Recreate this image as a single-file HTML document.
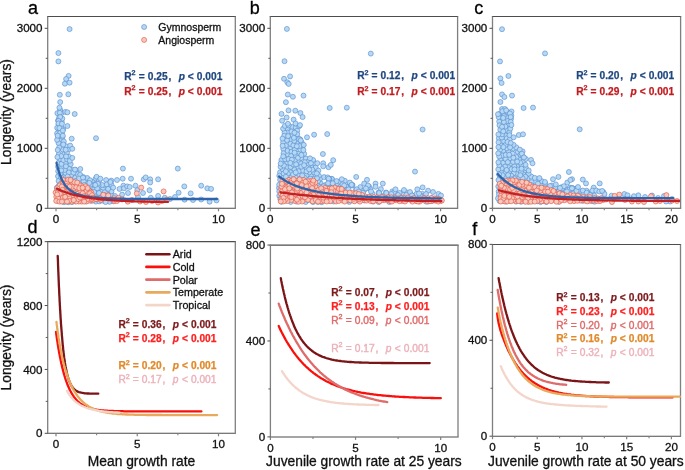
<!DOCTYPE html><html><head><meta charset="utf-8"><style>html,body{margin:0;padding:0;background:#fff}svg{display:block;will-change:transform}text{font-family:"Liberation Sans",sans-serif}.bl circle{fill:#b5d8f4;stroke:#568ccf;stroke-width:.62px;r:2.5px}.rd circle{fill:#f7c9bb;stroke:#e4584b;stroke-width:.65px;r:2.5px}</style></head><body>
<svg width="685" height="470" viewBox="0 0 685 470" font-family="Liberation Sans, sans-serif">
<rect width="685" height="470" fill="#fff"/>
<g class="bl"><circle cx="90.9" cy="192.4" r="2.5"/><circle cx="58.2" cy="171.2" r="2.5"/><circle cx="65.0" cy="184.1" r="2.5"/><circle cx="109.5" cy="186.8" r="2.5"/><circle cx="60.6" cy="139.9" r="2.5"/><circle cx="64.0" cy="196.2" r="2.5"/><circle cx="64.5" cy="176.4" r="2.5"/><circle cx="85.8" cy="189.0" r="2.5"/><circle cx="103.2" cy="188.3" r="2.5"/><circle cx="87.9" cy="182.8" r="2.5"/><circle cx="88.2" cy="199.5" r="2.5"/><circle cx="90.3" cy="196.2" r="2.5"/><circle cx="70.0" cy="199.7" r="2.5"/><circle cx="72.4" cy="169.7" r="2.5"/><circle cx="61.3" cy="113.3" r="2.5"/><circle cx="68.1" cy="189.0" r="2.5"/><circle cx="69.0" cy="168.8" r="2.5"/><circle cx="58.5" cy="162.8" r="2.5"/><circle cx="75.9" cy="193.0" r="2.5"/><circle cx="57.6" cy="196.0" r="2.5"/><circle cx="65.7" cy="173.2" r="2.5"/><circle cx="96.0" cy="194.5" r="2.5"/><circle cx="90.1" cy="187.6" r="2.5"/><circle cx="58.0" cy="120.5" r="2.5"/><circle cx="63.9" cy="154.2" r="2.5"/><circle cx="67.8" cy="179.9" r="2.5"/><circle cx="60.1" cy="188.5" r="2.5"/><circle cx="107.7" cy="191.4" r="2.5"/><circle cx="58.1" cy="166.7" r="2.5"/><circle cx="61.9" cy="167.5" r="2.5"/><circle cx="84.7" cy="195.3" r="2.5"/><circle cx="69.0" cy="193.6" r="2.5"/><circle cx="74.6" cy="177.8" r="2.5"/><circle cx="71.3" cy="175.0" r="2.5"/><circle cx="76.0" cy="180.8" r="2.5"/><circle cx="99.2" cy="198.4" r="2.5"/><circle cx="58.9" cy="154.0" r="2.5"/><circle cx="79.6" cy="183.8" r="2.5"/><circle cx="104.8" cy="198.4" r="2.5"/><circle cx="58.6" cy="180.9" r="2.5"/><circle cx="64.8" cy="169.9" r="2.5"/><circle cx="60.1" cy="159.0" r="2.5"/><circle cx="65.7" cy="162.7" r="2.5"/><circle cx="58.8" cy="185.6" r="2.5"/><circle cx="63.2" cy="188.1" r="2.5"/><circle cx="76.7" cy="172.8" r="2.5"/><circle cx="61.5" cy="163.9" r="2.5"/><circle cx="70.8" cy="179.6" r="2.5"/><circle cx="78.9" cy="200.9" r="2.5"/><circle cx="98.5" cy="190.2" r="2.5"/><circle cx="71.3" cy="182.6" r="2.5"/><circle cx="87.9" cy="193.6" r="2.5"/><circle cx="92.9" cy="181.8" r="2.5"/><circle cx="60.2" cy="110.0" r="2.5"/><circle cx="61.8" cy="133.5" r="2.5"/><circle cx="80.2" cy="174.8" r="2.5"/><circle cx="66.4" cy="146.3" r="2.5"/><circle cx="59.1" cy="130.8" r="2.5"/><circle cx="91.4" cy="200.9" r="2.5"/><circle cx="94.4" cy="188.4" r="2.5"/><circle cx="111.8" cy="197.4" r="2.5"/><circle cx="67.0" cy="152.6" r="2.5"/><circle cx="58.5" cy="124.6" r="2.5"/><circle cx="79.4" cy="189.9" r="2.5"/><circle cx="101.4" cy="195.8" r="2.5"/><circle cx="107.2" cy="194.4" r="2.5"/><circle cx="79.7" cy="197.1" r="2.5"/><circle cx="62.5" cy="136.9" r="2.5"/><circle cx="58.0" cy="176.2" r="2.5"/><circle cx="75.0" cy="196.6" r="2.5"/><circle cx="85.8" cy="201.4" r="2.5"/><circle cx="82.9" cy="191.6" r="2.5"/><circle cx="83.7" cy="181.4" r="2.5"/><circle cx="108.2" cy="197.3" r="2.5"/><circle cx="63.2" cy="129.2" r="2.5"/><circle cx="59.9" cy="194.0" r="2.5"/><circle cx="70.7" cy="164.2" r="2.5"/><circle cx="64.6" cy="190.8" r="2.5"/><circle cx="74.9" cy="189.5" r="2.5"/><circle cx="62.7" cy="149.4" r="2.5"/><circle cx="59.2" cy="117.3" r="2.5"/><circle cx="111.2" cy="194.4" r="2.5"/><circle cx="101.6" cy="192.1" r="2.5"/><circle cx="57.0" cy="191.3" r="2.5"/><circle cx="61.1" cy="183.5" r="2.5"/><circle cx="68.2" cy="202.2" r="2.5"/><circle cx="105.3" cy="185.5" r="2.5"/><circle cx="76.5" cy="184.8" r="2.5"/><circle cx="70.6" cy="196.2" r="2.5"/><circle cx="61.0" cy="126.9" r="2.5"/><circle cx="58.3" cy="136.3" r="2.5"/><circle cx="87.2" cy="178.0" r="2.5"/><circle cx="63.4" cy="160.0" r="2.5"/><circle cx="59.2" cy="147.4" r="2.5"/><circle cx="61.1" cy="199.3" r="2.5"/><circle cx="102.2" cy="185.0" r="2.5"/><circle cx="94.8" cy="197.6" r="2.5"/><circle cx="69.3" cy="149.0" r="2.5"/><circle cx="61.8" cy="122.0" r="2.5"/><circle cx="80.7" cy="194.0" r="2.5"/><circle cx="63.9" cy="202.2" r="2.5"/><circle cx="84.4" cy="185.0" r="2.5"/><circle cx="57.7" cy="150.0" r="2.5"/><circle cx="109.6" cy="201.8" r="2.5"/><circle cx="72.8" cy="187.2" r="2.5"/><circle cx="81.4" cy="186.5" r="2.5"/><circle cx="72.3" cy="193.6" r="2.5"/><circle cx="58.5" cy="142.9" r="2.5"/><circle cx="67.5" cy="196.3" r="2.5"/><circle cx="102.4" cy="200.6" r="2.5"/><circle cx="113.4" cy="201.3" r="2.5"/><circle cx="61.1" cy="177.2" r="2.5"/><circle cx="82.0" cy="200.9" r="2.5"/><circle cx="63.8" cy="141.4" r="2.5"/><circle cx="69.6" cy="185.8" r="2.5"/><circle cx="98.6" cy="185.3" r="2.5"/><circle cx="58.3" cy="201.0" r="2.5"/><circle cx="73.1" cy="199.2" r="2.5"/><circle cx="67.1" cy="159.4" r="2.5"/><circle cx="83.3" cy="177.1" r="2.5"/><circle cx="61.2" cy="156.1" r="2.5"/><circle cx="95.8" cy="201.6" r="2.5"/><circle cx="111.5" cy="191.3" r="2.5"/><circle cx="56.8" cy="187.8" r="2.5"/><circle cx="79.1" cy="178.6" r="2.5"/><circle cx="63.3" cy="144.5" r="2.5"/><circle cx="62.6" cy="180.1" r="2.5"/><circle cx="97.0" cy="182.7" r="2.5"/><circle cx="94.3" cy="191.9" r="2.5"/><circle cx="60.4" cy="173.8" r="2.5"/><circle cx="105.6" cy="202.1" r="2.5"/><circle cx="65.9" cy="166.3" r="2.5"/><circle cx="68.9" cy="172.4" r="2.5"/><circle cx="69.2" cy="156.9" r="2.5"/><circle cx="75.3" cy="201.4" r="2.5"/><circle cx="57.2" cy="127.9" r="2.5"/><circle cx="94.0" cy="184.9" r="2.5"/><circle cx="57.4" cy="113.2" r="2.5"/><circle cx="67.6" cy="176.5" r="2.5"/><circle cx="90.0" cy="180.2" r="2.5"/><circle cx="85.0" cy="198.4" r="2.5"/><circle cx="98.9" cy="193.6" r="2.5"/><circle cx="57.4" cy="157.1" r="2.5"/><circle cx="104.7" cy="192.3" r="2.5"/><circle cx="57.1" cy="133.4" r="2.5"/><circle cx="90.5" cy="184.6" r="2.5"/><circle cx="69.8" cy="160.8" r="2.5"/><circle cx="61.2" cy="170.4" r="2.5"/><circle cx="72.0" cy="202.1" r="2.5"/><circle cx="66.1" cy="200.0" r="2.5"/><circle cx="62.3" cy="118.6" r="2.5"/><circle cx="68.1" cy="183.0" r="2.5"/><circle cx="57.1" cy="139.8" r="2.5"/><circle cx="75.5" cy="169.9" r="2.5"/><circle cx="65.7" cy="149.8" r="2.5"/><circle cx="66.1" cy="156.4" r="2.5"/><circle cx="99.2" cy="201.4" r="2.5"/><circle cx="71.3" cy="190.1" r="2.5"/><circle cx="73.5" cy="172.6" r="2.5"/><circle cx="87.6" cy="186.0" r="2.5"/><circle cx="88.6" cy="190.2" r="2.5"/><circle cx="69.6" cy="29.1" r="2.5"/><circle cx="58.4" cy="53.1" r="2.5"/><circle cx="58.4" cy="61.4" r="2.5"/><circle cx="68.6" cy="75.9" r="2.5"/><circle cx="66.1" cy="79.0" r="2.5"/><circle cx="64.9" cy="83.7" r="2.5"/><circle cx="69.6" cy="82.7" r="2.5"/><circle cx="59.8" cy="94.8" r="2.5"/><circle cx="68.3" cy="94.3" r="2.5"/><circle cx="60.2" cy="102.1" r="2.5"/><circle cx="59.4" cy="107.7" r="2.5"/><circle cx="59.8" cy="112.8" r="2.5"/><circle cx="65.3" cy="111.9" r="2.5"/><circle cx="67.4" cy="112.3" r="2.5"/><circle cx="74.7" cy="114.0" r="2.5"/><circle cx="67.4" cy="126.0" r="2.5"/><circle cx="71.7" cy="138.7" r="2.5"/><circle cx="96.0" cy="138.2" r="2.5"/><circle cx="70.2" cy="145.6" r="2.5"/><circle cx="72.3" cy="148.8" r="2.5"/><circle cx="72.3" cy="157.9" r="2.5"/><circle cx="80.3" cy="169.0" r="2.5"/><circle cx="75.0" cy="169.6" r="2.5"/><circle cx="83.0" cy="177.6" r="2.5"/><circle cx="95.7" cy="178.6" r="2.5"/><circle cx="89.4" cy="182.9" r="2.5"/><circle cx="122.9" cy="168.6" r="2.5"/><circle cx="177.8" cy="168.6" r="2.5"/><circle cx="96.6" cy="176.8" r="2.5"/><circle cx="99.1" cy="180.6" r="2.5"/><circle cx="100.4" cy="178.7" r="2.5"/><circle cx="97.9" cy="183.8" r="2.5"/><circle cx="97.2" cy="188.3" r="2.5"/><circle cx="106.1" cy="180.0" r="2.5"/><circle cx="106.8" cy="184.4" r="2.5"/><circle cx="108.1" cy="188.9" r="2.5"/><circle cx="111.3" cy="180.6" r="2.5"/><circle cx="111.3" cy="184.4" r="2.5"/><circle cx="113.2" cy="187.6" r="2.5"/><circle cx="117.0" cy="180.0" r="2.5"/><circle cx="122.7" cy="178.7" r="2.5"/><circle cx="119.5" cy="188.9" r="2.5"/><circle cx="123.4" cy="185.7" r="2.5"/><circle cx="124.0" cy="188.3" r="2.5"/><circle cx="127.2" cy="186.4" r="2.5"/><circle cx="129.7" cy="187.0" r="2.5"/><circle cx="131.0" cy="178.7" r="2.5"/><circle cx="122.1" cy="194.6" r="2.5"/><circle cx="135.5" cy="185.7" r="2.5"/><circle cx="143.8" cy="179.3" r="2.5"/><circle cx="145.7" cy="177.4" r="2.5"/><circle cx="150.2" cy="179.3" r="2.5"/><circle cx="150.2" cy="182.5" r="2.5"/><circle cx="149.5" cy="190.2" r="2.5"/><circle cx="150.8" cy="197.8" r="2.5"/><circle cx="158.1" cy="179.3" r="2.5"/><circle cx="158.1" cy="195.9" r="2.5"/><circle cx="95.3" cy="185.0" r="2.5"/><circle cx="110.4" cy="182.0" r="2.5"/><circle cx="137.3" cy="190.2" r="2.5"/><circle cx="164.8" cy="197.8" r="2.5"/><circle cx="184.3" cy="186.4" r="2.5"/><circle cx="178.6" cy="192.7" r="2.5"/><circle cx="190.7" cy="193.4" r="2.5"/><circle cx="201.2" cy="185.7" r="2.5"/><circle cx="207.3" cy="188.3" r="2.5"/><circle cx="211.1" cy="188.9" r="2.5"/><circle cx="184.6" cy="199.7" r="2.5"/><circle cx="201.2" cy="199.5" r="2.5"/><circle cx="209.6" cy="201.7" r="2.5"/><circle cx="216.5" cy="200.4" r="2.5"/><circle cx="60.2" cy="117.0" r="2.5"/><circle cx="58.5" cy="120.9" r="2.5"/><circle cx="58.5" cy="123.4" r="2.5"/><circle cx="61.9" cy="123.8" r="2.5"/><circle cx="59.4" cy="128.1" r="2.5"/><circle cx="60.2" cy="132.8" r="2.5"/><circle cx="62.8" cy="130.6" r="2.5"/><circle cx="57.7" cy="135.7" r="2.5"/><circle cx="62.8" cy="135.7" r="2.5"/><circle cx="99.0" cy="193.0" r="2.5"/><circle cx="104.0" cy="195.0" r="2.5"/><circle cx="115.0" cy="196.0" r="2.5"/><circle cx="128.0" cy="193.0" r="2.5"/><circle cx="138.0" cy="197.0" r="2.5"/><circle cx="143.0" cy="193.0" r="2.5"/><circle cx="170.0" cy="199.0" r="2.5"/><circle cx="193.0" cy="200.0" r="2.5"/><circle cx="175.0" cy="197.0" r="2.5"/></g>
<g class="rd"><circle cx="65.2" cy="180.9" r="2.5"/><circle cx="62.9" cy="195.0" r="2.5"/><circle cx="62.5" cy="192.4" r="2.5"/><circle cx="69.1" cy="184.1" r="2.5"/><circle cx="64.5" cy="188.5" r="2.5"/><circle cx="81.5" cy="195.5" r="2.5"/><circle cx="60.0" cy="188.8" r="2.5"/><circle cx="55.6" cy="192.5" r="2.5"/><circle cx="71.7" cy="182.2" r="2.5"/><circle cx="73.1" cy="184.2" r="2.5"/><circle cx="91.5" cy="195.0" r="2.5"/><circle cx="81.5" cy="201.6" r="2.5"/><circle cx="89.7" cy="200.6" r="2.5"/><circle cx="58.0" cy="191.6" r="2.5"/><circle cx="89.3" cy="190.9" r="2.5"/><circle cx="71.3" cy="189.4" r="2.5"/><circle cx="81.2" cy="185.8" r="2.5"/><circle cx="85.7" cy="194.2" r="2.5"/><circle cx="63.3" cy="184.6" r="2.5"/><circle cx="60.7" cy="198.9" r="2.5"/><circle cx="85.1" cy="198.8" r="2.5"/><circle cx="56.3" cy="196.8" r="2.5"/><circle cx="78.8" cy="184.6" r="2.5"/><circle cx="71.8" cy="198.1" r="2.5"/><circle cx="68.1" cy="188.4" r="2.5"/><circle cx="83.8" cy="190.8" r="2.5"/><circle cx="78.8" cy="201.5" r="2.5"/><circle cx="76.3" cy="201.5" r="2.5"/><circle cx="66.5" cy="194.8" r="2.5"/><circle cx="92.3" cy="197.4" r="2.5"/><circle cx="74.0" cy="188.9" r="2.5"/><circle cx="59.5" cy="196.2" r="2.5"/><circle cx="85.1" cy="188.6" r="2.5"/><circle cx="92.9" cy="200.3" r="2.5"/><circle cx="62.8" cy="197.7" r="2.5"/><circle cx="82.5" cy="198.3" r="2.5"/><circle cx="75.7" cy="184.8" r="2.5"/><circle cx="59.7" cy="185.4" r="2.5"/><circle cx="74.4" cy="197.7" r="2.5"/><circle cx="63.1" cy="182.1" r="2.5"/><circle cx="64.1" cy="200.8" r="2.5"/><circle cx="66.9" cy="198.7" r="2.5"/><circle cx="72.3" cy="186.7" r="2.5"/><circle cx="67.7" cy="191.2" r="2.5"/><circle cx="76.7" cy="196.6" r="2.5"/><circle cx="77.4" cy="191.0" r="2.5"/><circle cx="57.2" cy="188.3" r="2.5"/><circle cx="81.2" cy="189.9" r="2.5"/><circle cx="72.4" cy="195.0" r="2.5"/><circle cx="89.4" cy="196.7" r="2.5"/><circle cx="69.0" cy="197.2" r="2.5"/><circle cx="74.7" cy="192.8" r="2.5"/><circle cx="58.2" cy="198.4" r="2.5"/><circle cx="74.3" cy="182.1" r="2.5"/><circle cx="86.7" cy="201.4" r="2.5"/><circle cx="65.2" cy="192.3" r="2.5"/><circle cx="78.2" cy="199.1" r="2.5"/><circle cx="71.6" cy="201.6" r="2.5"/><circle cx="71.3" cy="192.5" r="2.5"/><circle cx="67.2" cy="182.4" r="2.5"/><circle cx="79.8" cy="191.9" r="2.5"/><circle cx="86.5" cy="191.3" r="2.5"/><circle cx="66.9" cy="186.1" r="2.5"/><circle cx="85.4" cy="186.3" r="2.5"/><circle cx="78.9" cy="195.3" r="2.5"/><circle cx="69.2" cy="200.8" r="2.5"/><circle cx="76.3" cy="187.2" r="2.5"/><circle cx="68.1" cy="179.7" r="2.5"/><circle cx="79.3" cy="188.2" r="2.5"/><circle cx="56.2" cy="200.9" r="2.5"/><circle cx="67.0" cy="201.6" r="2.5"/><circle cx="91.4" cy="192.5" r="2.5"/><circle cx="87.7" cy="199.0" r="2.5"/><circle cx="59.9" cy="193.7" r="2.5"/><circle cx="68.7" cy="193.9" r="2.5"/><circle cx="84.2" cy="201.6" r="2.5"/><circle cx="59.4" cy="201.6" r="2.5"/><circle cx="87.6" cy="188.1" r="2.5"/><circle cx="77.2" cy="182.5" r="2.5"/><circle cx="57.2" cy="194.4" r="2.5"/><circle cx="82.7" cy="193.3" r="2.5"/><circle cx="61.8" cy="186.6" r="2.5"/><circle cx="82.6" cy="187.8" r="2.5"/><circle cx="69.6" cy="186.5" r="2.5"/><circle cx="88.2" cy="193.8" r="2.5"/><circle cx="86.4" cy="196.5" r="2.5"/><circle cx="73.7" cy="200.1" r="2.5"/><circle cx="84.0" cy="196.3" r="2.5"/><circle cx="77.0" cy="193.8" r="2.5"/><circle cx="62.4" cy="189.9" r="2.5"/><circle cx="65.1" cy="196.9" r="2.5"/><circle cx="62.9" cy="179.7" r="2.5"/><circle cx="70.5" cy="180.0" r="2.5"/><circle cx="80.0" cy="197.5" r="2.5"/><circle cx="61.9" cy="201.6" r="2.5"/><circle cx="96.5" cy="199.0" r="2.5"/><circle cx="91.9" cy="199.1" r="2.5"/><circle cx="105.2" cy="195.7" r="2.5"/><circle cx="90.1" cy="193.3" r="2.5"/><circle cx="114.3" cy="201.0" r="2.5"/><circle cx="97.1" cy="198.8" r="2.5"/><circle cx="92.0" cy="195.2" r="2.5"/><circle cx="100.8" cy="200.1" r="2.5"/><circle cx="100.1" cy="198.5" r="2.5"/><circle cx="102.8" cy="197.8" r="2.5"/><circle cx="92.9" cy="197.9" r="2.5"/><circle cx="102.3" cy="197.3" r="2.5"/><circle cx="96.1" cy="199.1" r="2.5"/><circle cx="114.2" cy="198.2" r="2.5"/><circle cx="103.3" cy="194.8" r="2.5"/><circle cx="108.2" cy="195.5" r="2.5"/><circle cx="141.2" cy="187.6" r="2.5"/><circle cx="136.8" cy="193.4" r="2.5"/><circle cx="127.8" cy="201.7" r="2.5"/><circle cx="118.6" cy="197.8" r="2.5"/><circle cx="163.6" cy="191.4" r="2.5"/><circle cx="167.1" cy="199.7" r="2.5"/><circle cx="117.0" cy="201.0" r="2.5"/><circle cx="122.0" cy="199.5" r="2.5"/><circle cx="132.0" cy="200.0" r="2.5"/><circle cx="140.0" cy="201.5" r="2.5"/><circle cx="146.0" cy="202.0" r="2.5"/><circle cx="152.0" cy="201.0" r="2.5"/><circle cx="158.0" cy="202.5" r="2.5"/><circle cx="162.0" cy="201.0" r="2.5"/></g>
<g class="bl"><circle cx="314.6" cy="175.7" r="2.5"/><circle cx="311.3" cy="199.1" r="2.5"/><circle cx="282.8" cy="176.8" r="2.5"/><circle cx="307.7" cy="182.0" r="2.5"/><circle cx="298.1" cy="168.1" r="2.5"/><circle cx="283.9" cy="162.0" r="2.5"/><circle cx="322.7" cy="189.6" r="2.5"/><circle cx="287.8" cy="154.3" r="2.5"/><circle cx="317.9" cy="201.9" r="2.5"/><circle cx="310.8" cy="175.7" r="2.5"/><circle cx="288.9" cy="169.4" r="2.5"/><circle cx="287.2" cy="162.8" r="2.5"/><circle cx="294.3" cy="195.0" r="2.5"/><circle cx="299.0" cy="161.5" r="2.5"/><circle cx="298.9" cy="193.4" r="2.5"/><circle cx="290.7" cy="148.1" r="2.5"/><circle cx="306.5" cy="175.3" r="2.5"/><circle cx="298.5" cy="153.6" r="2.5"/><circle cx="287.5" cy="128.3" r="2.5"/><circle cx="287.3" cy="150.8" r="2.5"/><circle cx="296.3" cy="147.1" r="2.5"/><circle cx="288.0" cy="183.5" r="2.5"/><circle cx="286.5" cy="167.2" r="2.5"/><circle cx="291.4" cy="177.2" r="2.5"/><circle cx="287.6" cy="132.6" r="2.5"/><circle cx="311.4" cy="182.0" r="2.5"/><circle cx="297.1" cy="137.8" r="2.5"/><circle cx="290.8" cy="140.2" r="2.5"/><circle cx="307.8" cy="189.7" r="2.5"/><circle cx="311.2" cy="166.4" r="2.5"/><circle cx="282.2" cy="193.0" r="2.5"/><circle cx="305.9" cy="158.5" r="2.5"/><circle cx="293.2" cy="183.2" r="2.5"/><circle cx="279.3" cy="195.8" r="2.5"/><circle cx="283.1" cy="142.3" r="2.5"/><circle cx="294.3" cy="169.8" r="2.5"/><circle cx="304.6" cy="177.8" r="2.5"/><circle cx="296.2" cy="191.0" r="2.5"/><circle cx="291.5" cy="151.8" r="2.5"/><circle cx="298.1" cy="174.8" r="2.5"/><circle cx="290.5" cy="143.8" r="2.5"/><circle cx="306.3" cy="195.0" r="2.5"/><circle cx="316.9" cy="188.9" r="2.5"/><circle cx="280.1" cy="172.3" r="2.5"/><circle cx="298.5" cy="182.2" r="2.5"/><circle cx="292.3" cy="135.2" r="2.5"/><circle cx="320.9" cy="194.6" r="2.5"/><circle cx="314.2" cy="163.1" r="2.5"/><circle cx="311.7" cy="188.3" r="2.5"/><circle cx="291.4" cy="198.6" r="2.5"/><circle cx="300.4" cy="149.6" r="2.5"/><circle cx="294.7" cy="149.7" r="2.5"/><circle cx="295.9" cy="177.7" r="2.5"/><circle cx="314.0" cy="172.4" r="2.5"/><circle cx="279.0" cy="188.0" r="2.5"/><circle cx="305.7" cy="202.0" r="2.5"/><circle cx="305.7" cy="187.3" r="2.5"/><circle cx="281.4" cy="160.1" r="2.5"/><circle cx="298.2" cy="143.2" r="2.5"/><circle cx="294.9" cy="160.2" r="2.5"/><circle cx="303.2" cy="145.4" r="2.5"/><circle cx="320.7" cy="199.0" r="2.5"/><circle cx="295.9" cy="155.5" r="2.5"/><circle cx="301.1" cy="158.0" r="2.5"/><circle cx="287.4" cy="179.5" r="2.5"/><circle cx="288.1" cy="195.1" r="2.5"/><circle cx="315.7" cy="167.5" r="2.5"/><circle cx="292.1" cy="127.0" r="2.5"/><circle cx="320.8" cy="183.5" r="2.5"/><circle cx="295.8" cy="127.7" r="2.5"/><circle cx="284.5" cy="132.6" r="2.5"/><circle cx="280.1" cy="179.8" r="2.5"/><circle cx="296.5" cy="201.6" r="2.5"/><circle cx="285.8" cy="145.6" r="2.5"/><circle cx="302.6" cy="199.5" r="2.5"/><circle cx="287.0" cy="140.1" r="2.5"/><circle cx="290.6" cy="166.9" r="2.5"/><circle cx="300.4" cy="197.3" r="2.5"/><circle cx="324.2" cy="196.1" r="2.5"/><circle cx="291.1" cy="156.0" r="2.5"/><circle cx="313.0" cy="202.1" r="2.5"/><circle cx="301.7" cy="178.6" r="2.5"/><circle cx="279.2" cy="184.7" r="2.5"/><circle cx="290.7" cy="201.9" r="2.5"/><circle cx="315.1" cy="195.3" r="2.5"/><circle cx="283.0" cy="169.8" r="2.5"/><circle cx="320.2" cy="178.7" r="2.5"/><circle cx="295.0" cy="180.8" r="2.5"/><circle cx="283.3" cy="148.9" r="2.5"/><circle cx="304.2" cy="153.8" r="2.5"/><circle cx="308.5" cy="161.4" r="2.5"/><circle cx="304.6" cy="191.5" r="2.5"/><circle cx="293.4" cy="145.3" r="2.5"/><circle cx="297.2" cy="130.7" r="2.5"/><circle cx="318.9" cy="175.7" r="2.5"/><circle cx="283.3" cy="185.1" r="2.5"/><circle cx="292.9" cy="164.3" r="2.5"/><circle cx="280.6" cy="166.8" r="2.5"/><circle cx="314.9" cy="182.1" r="2.5"/><circle cx="311.7" cy="195.6" r="2.5"/><circle cx="314.8" cy="198.4" r="2.5"/><circle cx="283.1" cy="128.7" r="2.5"/><circle cx="281.5" cy="201.8" r="2.5"/><circle cx="291.5" cy="131.5" r="2.5"/><circle cx="311.1" cy="191.4" r="2.5"/><circle cx="309.4" cy="172.4" r="2.5"/><circle cx="286.1" cy="200.7" r="2.5"/><circle cx="302.7" cy="170.6" r="2.5"/><circle cx="301.2" cy="163.5" r="2.5"/><circle cx="284.2" cy="135.8" r="2.5"/><circle cx="303.4" cy="150.1" r="2.5"/><circle cx="296.1" cy="164.3" r="2.5"/><circle cx="303.3" cy="183.9" r="2.5"/><circle cx="304.9" cy="162.2" r="2.5"/><circle cx="308.3" cy="165.0" r="2.5"/><circle cx="296.9" cy="197.3" r="2.5"/><circle cx="298.2" cy="188.2" r="2.5"/><circle cx="290.6" cy="172.4" r="2.5"/><circle cx="313.6" cy="179.0" r="2.5"/><circle cx="300.3" cy="184.8" r="2.5"/><circle cx="306.5" cy="167.7" r="2.5"/><circle cx="294.6" cy="186.3" r="2.5"/><circle cx="298.6" cy="171.2" r="2.5"/><circle cx="301.3" cy="166.7" r="2.5"/><circle cx="301.2" cy="190.1" r="2.5"/><circle cx="285.8" cy="190.5" r="2.5"/><circle cx="293.1" cy="174.4" r="2.5"/><circle cx="310.4" cy="178.7" r="2.5"/><circle cx="285.2" cy="159.3" r="2.5"/><circle cx="300.1" cy="139.3" r="2.5"/><circle cx="324.4" cy="199.6" r="2.5"/><circle cx="284.9" cy="125.9" r="2.5"/><circle cx="283.3" cy="197.2" r="2.5"/><circle cx="294.3" cy="140.8" r="2.5"/><circle cx="283.5" cy="153.3" r="2.5"/><circle cx="289.4" cy="192.0" r="2.5"/><circle cx="322.5" cy="186.5" r="2.5"/><circle cx="318.4" cy="170.6" r="2.5"/><circle cx="291.1" cy="189.4" r="2.5"/><circle cx="288.6" cy="159.1" r="2.5"/><circle cx="313.6" cy="185.3" r="2.5"/><circle cx="308.2" cy="200.1" r="2.5"/><circle cx="290.8" cy="185.3" r="2.5"/><circle cx="287.8" cy="173.6" r="2.5"/><circle cx="283.6" cy="173.5" r="2.5"/><circle cx="283.2" cy="156.3" r="2.5"/><circle cx="309.4" cy="185.4" r="2.5"/><circle cx="282.5" cy="189.1" r="2.5"/><circle cx="302.2" cy="175.5" r="2.5"/><circle cx="298.0" cy="157.8" r="2.5"/><circle cx="283.1" cy="180.9" r="2.5"/><circle cx="313.1" cy="160.0" r="2.5"/><circle cx="303.3" cy="195.4" r="2.5"/><circle cx="315.1" cy="191.5" r="2.5"/><circle cx="297.2" cy="134.2" r="2.5"/><circle cx="317.4" cy="185.0" r="2.5"/><circle cx="288.1" cy="136.1" r="2.5"/><circle cx="286.0" cy="187.3" r="2.5"/><circle cx="282.5" cy="138.6" r="2.5"/><circle cx="280.3" cy="199.0" r="2.5"/><circle cx="317.9" cy="181.3" r="2.5"/><circle cx="299.2" cy="126.2" r="2.5"/><circle cx="319.5" cy="190.7" r="2.5"/><circle cx="291.9" cy="159.7" r="2.5"/><circle cx="279.3" cy="191.3" r="2.5"/><circle cx="306.6" cy="171.3" r="2.5"/><circle cx="285.8" cy="171.3" r="2.5"/><circle cx="310.0" cy="158.3" r="2.5"/><circle cx="304.6" cy="181.0" r="2.5"/><circle cx="285.2" cy="193.5" r="2.5"/><circle cx="319.5" cy="187.3" r="2.5"/><circle cx="312.3" cy="169.7" r="2.5"/><circle cx="317.3" cy="163.2" r="2.5"/><circle cx="301.6" cy="142.3" r="2.5"/><circle cx="288.4" cy="198.6" r="2.5"/><circle cx="317.5" cy="193.5" r="2.5"/><circle cx="321.7" cy="202.2" r="2.5"/><circle cx="299.6" cy="146.0" r="2.5"/><circle cx="317.8" cy="197.3" r="2.5"/><circle cx="291.2" cy="180.8" r="2.5"/><circle cx="283.8" cy="165.5" r="2.5"/><circle cx="324.6" cy="192.3" r="2.5"/><circle cx="305.6" cy="198.1" r="2.5"/><circle cx="280.7" cy="163.6" r="2.5"/><circle cx="299.5" cy="200.4" r="2.5"/><circle cx="308.4" cy="192.9" r="2.5"/><circle cx="309.2" cy="169.4" r="2.5"/><circle cx="310.9" cy="163.2" r="2.5"/><circle cx="282.6" cy="145.8" r="2.5"/><circle cx="302.4" cy="187.2" r="2.5"/><circle cx="304.1" cy="165.2" r="2.5"/><circle cx="292.6" cy="192.2" r="2.5"/><circle cx="285.9" cy="176.8" r="2.5"/><circle cx="288.7" cy="125.4" r="2.5"/><circle cx="279.3" cy="175.7" r="2.5"/><circle cx="317.0" cy="178.2" r="2.5"/><circle cx="294.6" cy="152.7" r="2.5"/><circle cx="316.8" cy="173.4" r="2.5"/><circle cx="294.5" cy="132.7" r="2.5"/><circle cx="290.3" cy="162.9" r="2.5"/><circle cx="308.9" cy="196.9" r="2.5"/><circle cx="294.3" cy="199.5" r="2.5"/><circle cx="293.9" cy="137.8" r="2.5"/><circle cx="301.4" cy="155.0" r="2.5"/><circle cx="295.7" cy="172.4" r="2.5"/><circle cx="337.3" cy="189.4" r="2.5"/><circle cx="335.5" cy="199.8" r="2.5"/><circle cx="346.3" cy="186.4" r="2.5"/><circle cx="348.2" cy="199.0" r="2.5"/><circle cx="372.3" cy="193.4" r="2.5"/><circle cx="329.4" cy="188.4" r="2.5"/><circle cx="377.1" cy="199.2" r="2.5"/><circle cx="369.1" cy="186.5" r="2.5"/><circle cx="387.8" cy="196.0" r="2.5"/><circle cx="422.7" cy="197.4" r="2.5"/><circle cx="352.5" cy="184.9" r="2.5"/><circle cx="350.1" cy="183.8" r="2.5"/><circle cx="341.2" cy="198.2" r="2.5"/><circle cx="412.5" cy="195.8" r="2.5"/><circle cx="336.9" cy="199.0" r="2.5"/><circle cx="379.4" cy="198.3" r="2.5"/><circle cx="422.5" cy="193.9" r="2.5"/><circle cx="410.5" cy="194.2" r="2.5"/><circle cx="335.1" cy="198.2" r="2.5"/><circle cx="377.2" cy="199.0" r="2.5"/><circle cx="370.3" cy="189.1" r="2.5"/><circle cx="359.3" cy="196.9" r="2.5"/><circle cx="341.9" cy="185.6" r="2.5"/><circle cx="394.1" cy="195.0" r="2.5"/><circle cx="384.8" cy="197.9" r="2.5"/><circle cx="335.4" cy="192.6" r="2.5"/><circle cx="337.6" cy="182.9" r="2.5"/><circle cx="378.6" cy="194.0" r="2.5"/><circle cx="347.1" cy="190.4" r="2.5"/><circle cx="354.6" cy="200.8" r="2.5"/><circle cx="417.1" cy="201.0" r="2.5"/><circle cx="360.3" cy="187.1" r="2.5"/><circle cx="386.0" cy="192.5" r="2.5"/><circle cx="326.1" cy="184.7" r="2.5"/><circle cx="408.7" cy="198.5" r="2.5"/><circle cx="403.6" cy="197.4" r="2.5"/><circle cx="380.9" cy="195.6" r="2.5"/><circle cx="402.9" cy="198.6" r="2.5"/><circle cx="339.2" cy="187.3" r="2.5"/><circle cx="403.1" cy="192.0" r="2.5"/><circle cx="329.7" cy="182.7" r="2.5"/><circle cx="332.3" cy="187.0" r="2.5"/><circle cx="428.2" cy="201.6" r="2.5"/><circle cx="333.4" cy="197.6" r="2.5"/><circle cx="355.9" cy="189.7" r="2.5"/><circle cx="330.2" cy="201.0" r="2.5"/><circle cx="416.4" cy="193.9" r="2.5"/><circle cx="406.8" cy="192.4" r="2.5"/><circle cx="403.7" cy="198.7" r="2.5"/><circle cx="325.7" cy="187.6" r="2.5"/><circle cx="328.6" cy="179.1" r="2.5"/><circle cx="358.3" cy="200.6" r="2.5"/><circle cx="352.0" cy="185.5" r="2.5"/><circle cx="380.9" cy="189.1" r="2.5"/><circle cx="390.2" cy="197.7" r="2.5"/><circle cx="357.0" cy="199.7" r="2.5"/><circle cx="339.5" cy="184.1" r="2.5"/><circle cx="348.3" cy="192.7" r="2.5"/><circle cx="404.0" cy="198.1" r="2.5"/><circle cx="422.2" cy="196.6" r="2.5"/><circle cx="323.5" cy="186.3" r="2.5"/><circle cx="337.0" cy="183.6" r="2.5"/><circle cx="331.9" cy="178.9" r="2.5"/><circle cx="341.2" cy="196.1" r="2.5"/><circle cx="344.8" cy="180.8" r="2.5"/><circle cx="347.4" cy="195.3" r="2.5"/><circle cx="392.3" cy="191.4" r="2.5"/><circle cx="341.3" cy="189.2" r="2.5"/><circle cx="380.4" cy="199.8" r="2.5"/><circle cx="409.9" cy="196.4" r="2.5"/><circle cx="438.9" cy="199.6" r="2.5"/><circle cx="339.2" cy="181.6" r="2.5"/><circle cx="331.7" cy="178.9" r="2.5"/><circle cx="398.5" cy="199.2" r="2.5"/><circle cx="434.4" cy="199.3" r="2.5"/><circle cx="333.6" cy="201.5" r="2.5"/><circle cx="364.6" cy="200.5" r="2.5"/><circle cx="364.2" cy="190.3" r="2.5"/><circle cx="343.5" cy="193.5" r="2.5"/><circle cx="324.1" cy="177.1" r="2.5"/><circle cx="386.2" cy="195.6" r="2.5"/><circle cx="329.4" cy="179.3" r="2.5"/><circle cx="343.6" cy="197.8" r="2.5"/><circle cx="403.3" cy="194.4" r="2.5"/><circle cx="341.5" cy="193.3" r="2.5"/><circle cx="389.2" cy="202.0" r="2.5"/><circle cx="355.0" cy="195.6" r="2.5"/><circle cx="426.4" cy="201.7" r="2.5"/><circle cx="324.9" cy="193.0" r="2.5"/><circle cx="441.3" cy="200.3" r="2.5"/><circle cx="340.4" cy="196.2" r="2.5"/><circle cx="418.4" cy="201.1" r="2.5"/><circle cx="355.5" cy="200.0" r="2.5"/><circle cx="399.5" cy="193.0" r="2.5"/><circle cx="355.9" cy="193.2" r="2.5"/><circle cx="378.7" cy="202.1" r="2.5"/><circle cx="362.9" cy="192.8" r="2.5"/><circle cx="333.6" cy="186.3" r="2.5"/><circle cx="419.7" cy="197.8" r="2.5"/><circle cx="347.3" cy="190.0" r="2.5"/><circle cx="426.1" cy="198.1" r="2.5"/><circle cx="412.7" cy="196.3" r="2.5"/><circle cx="328.9" cy="178.9" r="2.5"/><circle cx="342.5" cy="184.3" r="2.5"/><circle cx="349.3" cy="201.9" r="2.5"/><circle cx="346.8" cy="190.0" r="2.5"/><circle cx="431.8" cy="201.1" r="2.5"/><circle cx="343.4" cy="200.3" r="2.5"/><circle cx="373.0" cy="201.6" r="2.5"/><circle cx="399.2" cy="198.8" r="2.5"/><circle cx="348.6" cy="200.3" r="2.5"/><circle cx="383.6" cy="196.6" r="2.5"/><circle cx="423.0" cy="196.2" r="2.5"/><circle cx="378.6" cy="192.5" r="2.5"/><circle cx="367.7" cy="187.8" r="2.5"/><circle cx="334.0" cy="200.0" r="2.5"/><circle cx="406.4" cy="194.9" r="2.5"/><circle cx="332.3" cy="192.8" r="2.5"/><circle cx="356.8" cy="189.3" r="2.5"/><circle cx="420.5" cy="196.2" r="2.5"/><circle cx="327.7" cy="177.4" r="2.5"/><circle cx="431.7" cy="198.1" r="2.5"/><circle cx="344.0" cy="192.2" r="2.5"/><circle cx="394.2" cy="192.0" r="2.5"/><circle cx="286.9" cy="28.9" r="2.5"/><circle cx="284.5" cy="61.2" r="2.5"/><circle cx="284.0" cy="78.8" r="2.5"/><circle cx="290.1" cy="76.4" r="2.5"/><circle cx="287.3" cy="82.3" r="2.5"/><circle cx="288.7" cy="83.9" r="2.5"/><circle cx="287.8" cy="94.5" r="2.5"/><circle cx="292.9" cy="96.8" r="2.5"/><circle cx="303.5" cy="95.6" r="2.5"/><circle cx="285.9" cy="102.2" r="2.5"/><circle cx="329.7" cy="108.0" r="2.5"/><circle cx="346.8" cy="107.7" r="2.5"/><circle cx="370.8" cy="53.6" r="2.5"/><circle cx="422.6" cy="129.5" r="2.5"/><circle cx="281.5" cy="113.9" r="2.5"/><circle cx="288.5" cy="110.4" r="2.5"/><circle cx="295.3" cy="110.7" r="2.5"/><circle cx="300.4" cy="113.0" r="2.5"/><circle cx="302.6" cy="117.1" r="2.5"/><circle cx="282.1" cy="120.7" r="2.5"/><circle cx="286.6" cy="117.5" r="2.5"/><circle cx="293.6" cy="119.6" r="2.5"/><circle cx="287.9" cy="123.8" r="2.5"/><circle cx="295.5" cy="123.5" r="2.5"/><circle cx="300.0" cy="125.1" r="2.5"/><circle cx="307.0" cy="137.3" r="2.5"/><circle cx="314.1" cy="134.7" r="2.5"/><circle cx="327.2" cy="134.1" r="2.5"/><circle cx="299.1" cy="139.2" r="2.5"/><circle cx="300.7" cy="140.4" r="2.5"/><circle cx="303.8" cy="144.9" r="2.5"/><circle cx="296.8" cy="146.2" r="2.5"/><circle cx="322.9" cy="154.0" r="2.5"/><circle cx="333.2" cy="160.2" r="2.5"/><circle cx="323.2" cy="163.3" r="2.5"/><circle cx="323.2" cy="166.3" r="2.5"/><circle cx="328.5" cy="167.2" r="2.5"/><circle cx="330.8" cy="164.9" r="2.5"/><circle cx="415.0" cy="171.6" r="2.5"/><circle cx="356.2" cy="176.9" r="2.5"/><circle cx="341.8" cy="179.2" r="2.5"/><circle cx="336.6" cy="181.1" r="2.5"/><circle cx="367.0" cy="179.8" r="2.5"/><circle cx="364.2" cy="183.6" r="2.5"/><circle cx="368.0" cy="185.5" r="2.5"/><circle cx="375.5" cy="183.6" r="2.5"/><circle cx="375.5" cy="186.8" r="2.5"/><circle cx="382.8" cy="183.6" r="2.5"/><circle cx="349.9" cy="182.6" r="2.5"/><circle cx="344.2" cy="185.5" r="2.5"/><circle cx="395.5" cy="189.3" r="2.5"/><circle cx="422.6" cy="187.4" r="2.5"/><circle cx="417.3" cy="189.3" r="2.5"/><circle cx="328.6" cy="178.7" r="2.5"/><circle cx="365.9" cy="188.4" r="2.5"/><circle cx="328.1" cy="183.3" r="2.5"/><circle cx="332.7" cy="183.3" r="2.5"/><circle cx="351.6" cy="184.8" r="2.5"/><circle cx="348.5" cy="189.4" r="2.5"/><circle cx="358.7" cy="191.5" r="2.5"/><circle cx="371.0" cy="191.5" r="2.5"/><circle cx="379.1" cy="193.0" r="2.5"/><circle cx="386.3" cy="193.0" r="2.5"/><circle cx="391.4" cy="194.0" r="2.5"/><circle cx="404.0" cy="190.0" r="2.5"/><circle cx="410.0" cy="192.0" r="2.5"/><circle cx="428.1" cy="190.7" r="2.5"/><circle cx="438.4" cy="193.9" r="2.5"/><circle cx="433.0" cy="192.0" r="2.5"/><circle cx="426.0" cy="194.0" r="2.5"/><circle cx="441.0" cy="195.5" r="2.5"/><circle cx="398.0" cy="195.0" r="2.5"/><circle cx="412.0" cy="195.5" r="2.5"/><circle cx="419.0" cy="193.5" r="2.5"/></g>
<g class="rd"><circle cx="312.7" cy="197.0" r="2.5"/><circle cx="294.9" cy="200.9" r="2.5"/><circle cx="385.9" cy="197.8" r="2.5"/><circle cx="354.6" cy="196.5" r="2.5"/><circle cx="417.9" cy="199.2" r="2.5"/><circle cx="288.9" cy="197.7" r="2.5"/><circle cx="288.7" cy="193.0" r="2.5"/><circle cx="357.5" cy="197.3" r="2.5"/><circle cx="333.7" cy="199.6" r="2.5"/><circle cx="315.5" cy="187.0" r="2.5"/><circle cx="297.2" cy="180.7" r="2.5"/><circle cx="340.1" cy="191.1" r="2.5"/><circle cx="428.1" cy="198.3" r="2.5"/><circle cx="343.4" cy="191.3" r="2.5"/><circle cx="291.4" cy="187.1" r="2.5"/><circle cx="388.2" cy="200.2" r="2.5"/><circle cx="371.7" cy="198.6" r="2.5"/><circle cx="375.8" cy="200.3" r="2.5"/><circle cx="347.1" cy="200.0" r="2.5"/><circle cx="298.3" cy="193.8" r="2.5"/><circle cx="294.6" cy="182.3" r="2.5"/><circle cx="310.5" cy="181.1" r="2.5"/><circle cx="284.9" cy="183.3" r="2.5"/><circle cx="347.8" cy="194.5" r="2.5"/><circle cx="316.3" cy="197.3" r="2.5"/><circle cx="310.8" cy="190.8" r="2.5"/><circle cx="326.8" cy="198.4" r="2.5"/><circle cx="363.7" cy="200.0" r="2.5"/><circle cx="308.1" cy="181.3" r="2.5"/><circle cx="334.7" cy="187.6" r="2.5"/><circle cx="300.4" cy="195.2" r="2.5"/><circle cx="329.2" cy="188.7" r="2.5"/><circle cx="303.7" cy="180.0" r="2.5"/><circle cx="304.7" cy="184.1" r="2.5"/><circle cx="287.5" cy="190.3" r="2.5"/><circle cx="319.9" cy="192.5" r="2.5"/><circle cx="312.6" cy="185.5" r="2.5"/><circle cx="297.4" cy="185.7" r="2.5"/><circle cx="402.4" cy="200.9" r="2.5"/><circle cx="344.1" cy="195.3" r="2.5"/><circle cx="395.4" cy="197.9" r="2.5"/><circle cx="284.3" cy="186.9" r="2.5"/><circle cx="304.7" cy="194.7" r="2.5"/><circle cx="398.6" cy="198.4" r="2.5"/><circle cx="308.0" cy="183.8" r="2.5"/><circle cx="303.2" cy="188.1" r="2.5"/><circle cx="316.7" cy="192.7" r="2.5"/><circle cx="311.0" cy="193.6" r="2.5"/><circle cx="313.3" cy="194.6" r="2.5"/><circle cx="301.3" cy="182.3" r="2.5"/><circle cx="424.2" cy="198.0" r="2.5"/><circle cx="292.2" cy="194.8" r="2.5"/><circle cx="308.1" cy="197.1" r="2.5"/><circle cx="338.0" cy="193.1" r="2.5"/><circle cx="293.6" cy="198.1" r="2.5"/><circle cx="335.9" cy="191.4" r="2.5"/><circle cx="366.5" cy="200.6" r="2.5"/><circle cx="379.5" cy="198.0" r="2.5"/><circle cx="286.7" cy="187.3" r="2.5"/><circle cx="345.7" cy="192.6" r="2.5"/><circle cx="341.9" cy="200.4" r="2.5"/><circle cx="337.7" cy="198.8" r="2.5"/><circle cx="393.1" cy="200.1" r="2.5"/><circle cx="291.2" cy="200.0" r="2.5"/><circle cx="384.2" cy="200.2" r="2.5"/><circle cx="287.5" cy="200.9" r="2.5"/><circle cx="329.9" cy="197.1" r="2.5"/><circle cx="336.0" cy="201.5" r="2.5"/><circle cx="285.7" cy="199.2" r="2.5"/><circle cx="334.0" cy="193.8" r="2.5"/><circle cx="294.6" cy="189.3" r="2.5"/><circle cx="281.2" cy="199.0" r="2.5"/><circle cx="429.9" cy="200.9" r="2.5"/><circle cx="300.2" cy="199.8" r="2.5"/><circle cx="298.0" cy="197.5" r="2.5"/><circle cx="338.8" cy="196.2" r="2.5"/><circle cx="310.5" cy="199.4" r="2.5"/><circle cx="381.7" cy="200.0" r="2.5"/><circle cx="294.3" cy="192.2" r="2.5"/><circle cx="282.4" cy="180.8" r="2.5"/><circle cx="304.6" cy="199.7" r="2.5"/><circle cx="285.2" cy="196.2" r="2.5"/><circle cx="350.8" cy="196.8" r="2.5"/><circle cx="441.0" cy="200.8" r="2.5"/><circle cx="327.5" cy="195.5" r="2.5"/><circle cx="343.9" cy="198.3" r="2.5"/><circle cx="338.9" cy="188.8" r="2.5"/><circle cx="281.3" cy="189.1" r="2.5"/><circle cx="300.7" cy="190.0" r="2.5"/><circle cx="308.0" cy="199.8" r="2.5"/><circle cx="313.7" cy="190.0" r="2.5"/><circle cx="289.0" cy="179.9" r="2.5"/><circle cx="350.4" cy="200.3" r="2.5"/><circle cx="322.5" cy="195.1" r="2.5"/><circle cx="288.3" cy="183.0" r="2.5"/><circle cx="338.7" cy="201.0" r="2.5"/><circle cx="320.3" cy="199.0" r="2.5"/><circle cx="406.5" cy="199.8" r="2.5"/><circle cx="321.0" cy="201.3" r="2.5"/><circle cx="356.6" cy="200.1" r="2.5"/><circle cx="296.7" cy="191.3" r="2.5"/><circle cx="299.2" cy="184.1" r="2.5"/><circle cx="281.6" cy="186.5" r="2.5"/><circle cx="352.1" cy="193.1" r="2.5"/><circle cx="399.5" cy="201.2" r="2.5"/><circle cx="318.4" cy="190.0" r="2.5"/><circle cx="301.9" cy="192.5" r="2.5"/><circle cx="306.2" cy="188.9" r="2.5"/><circle cx="325.1" cy="187.9" r="2.5"/><circle cx="369.0" cy="196.7" r="2.5"/><circle cx="362.7" cy="197.6" r="2.5"/><circle cx="319.0" cy="195.3" r="2.5"/><circle cx="285.0" cy="191.6" r="2.5"/><circle cx="370.5" cy="201.1" r="2.5"/><circle cx="412.4" cy="201.6" r="2.5"/><circle cx="294.6" cy="186.6" r="2.5"/><circle cx="330.2" cy="201.2" r="2.5"/><circle cx="291.6" cy="180.7" r="2.5"/><circle cx="328.8" cy="191.4" r="2.5"/><circle cx="308.5" cy="193.8" r="2.5"/><circle cx="334.0" cy="196.9" r="2.5"/><circle cx="427.0" cy="200.9" r="2.5"/><circle cx="365.3" cy="196.4" r="2.5"/><circle cx="290.1" cy="190.7" r="2.5"/><circle cx="280.8" cy="193.6" r="2.5"/><circle cx="282.2" cy="191.4" r="2.5"/><circle cx="376.5" cy="197.5" r="2.5"/><circle cx="340.2" cy="198.2" r="2.5"/><circle cx="300.6" cy="187.5" r="2.5"/><circle cx="403.8" cy="197.8" r="2.5"/><circle cx="413.6" cy="198.2" r="2.5"/><circle cx="315.3" cy="182.5" r="2.5"/><circle cx="435.4" cy="200.7" r="2.5"/><circle cx="333.4" cy="190.8" r="2.5"/><circle cx="304.4" cy="190.6" r="2.5"/><circle cx="388.3" cy="197.4" r="2.5"/><circle cx="396.2" cy="200.3" r="2.5"/><circle cx="309.6" cy="188.1" r="2.5"/><circle cx="379.5" cy="201.4" r="2.5"/><circle cx="324.0" cy="200.7" r="2.5"/><circle cx="331.7" cy="194.7" r="2.5"/><circle cx="302.2" cy="201.5" r="2.5"/><circle cx="359.9" cy="196.5" r="2.5"/><circle cx="359.9" cy="201.6" r="2.5"/><circle cx="439.0" cy="199.0" r="2.5"/><circle cx="282.0" cy="183.8" r="2.5"/><circle cx="410.2" cy="199.7" r="2.5"/><circle cx="420.7" cy="199.2" r="2.5"/><circle cx="354.3" cy="201.3" r="2.5"/><circle cx="282.7" cy="195.4" r="2.5"/><circle cx="416.5" cy="201.2" r="2.5"/><circle cx="346.7" cy="197.3" r="2.5"/><circle cx="326.7" cy="201.5" r="2.5"/><circle cx="323.9" cy="190.0" r="2.5"/><circle cx="401.2" cy="198.0" r="2.5"/><circle cx="391.3" cy="197.4" r="2.5"/><circle cx="356.1" cy="193.3" r="2.5"/><circle cx="312.6" cy="201.3" r="2.5"/><circle cx="424.1" cy="200.5" r="2.5"/><circle cx="310.2" cy="185.5" r="2.5"/><circle cx="315.8" cy="199.9" r="2.5"/><circle cx="291.2" cy="183.2" r="2.5"/><circle cx="323.2" cy="197.6" r="2.5"/><circle cx="285.0" cy="189.2" r="2.5"/><circle cx="321.2" cy="188.3" r="2.5"/><circle cx="295.8" cy="194.3" r="2.5"/><circle cx="286.4" cy="181.3" r="2.5"/><circle cx="349.7" cy="192.7" r="2.5"/><circle cx="434.9" cy="198.3" r="2.5"/><circle cx="325.6" cy="193.8" r="2.5"/><circle cx="419.6" cy="201.6" r="2.5"/><circle cx="302.7" cy="196.1" r="2.5"/><circle cx="432.4" cy="200.6" r="2.5"/><circle cx="308.4" cy="190.5" r="2.5"/><circle cx="293.6" cy="179.3" r="2.5"/><circle cx="299.6" cy="179.4" r="2.5"/><circle cx="306.6" cy="192.4" r="2.5"/><circle cx="326.3" cy="190.9" r="2.5"/><circle cx="341.2" cy="193.4" r="2.5"/><circle cx="312.5" cy="182.9" r="2.5"/><circle cx="298.6" cy="201.7" r="2.5"/><circle cx="373.1" cy="201.3" r="2.5"/><circle cx="373.6" cy="197.1" r="2.5"/><circle cx="322.3" cy="192.4" r="2.5"/><circle cx="283.5" cy="197.9" r="2.5"/><circle cx="331.7" cy="188.4" r="2.5"/><circle cx="318.0" cy="201.6" r="2.5"/><circle cx="353.6" cy="198.7" r="2.5"/><circle cx="297.3" cy="188.5" r="2.5"/><circle cx="283.6" cy="201.4" r="2.5"/><circle cx="362.1" cy="195.0" r="2.5"/><circle cx="301.7" cy="185.1" r="2.5"/><circle cx="438.3" cy="201.6" r="2.5"/><circle cx="390.9" cy="201.4" r="2.5"/><circle cx="336.3" cy="196.1" r="2.5"/><circle cx="382.0" cy="197.2" r="2.5"/><circle cx="306.5" cy="186.2" r="2.5"/><circle cx="359.1" cy="199.3" r="2.5"/><circle cx="407.9" cy="197.6" r="2.5"/><circle cx="286.0" cy="193.8" r="2.5"/><circle cx="341.6" cy="188.9" r="2.5"/><circle cx="344.7" cy="201.6" r="2.5"/><circle cx="431.4" cy="198.1" r="2.5"/><circle cx="312.1" cy="188.1" r="2.5"/><circle cx="289.5" cy="185.6" r="2.5"/><circle cx="358.7" cy="194.0" r="2.5"/><circle cx="331.3" cy="192.2" r="2.5"/><circle cx="368.4" cy="199.1" r="2.5"/><circle cx="305.0" cy="197.2" r="2.5"/><circle cx="280.8" cy="201.4" r="2.5"/><circle cx="313.3" cy="180.6" r="2.5"/><circle cx="289.3" cy="188.4" r="2.5"/><circle cx="296.9" cy="199.7" r="2.5"/><circle cx="305.6" cy="181.7" r="2.5"/><circle cx="291.4" cy="197.1" r="2.5"/><circle cx="291.9" cy="192.4" r="2.5"/><circle cx="310.4" cy="196.2" r="2.5"/><circle cx="292.8" cy="185.0" r="2.5"/><circle cx="296.8" cy="183.4" r="2.5"/><circle cx="441.8" cy="200.5" r="2.5"/><circle cx="436.0" cy="199.0" r="2.5"/><circle cx="430.0" cy="201.0" r="2.5"/><circle cx="424.0" cy="198.5" r="2.5"/><circle cx="418.0" cy="201.5" r="2.5"/><circle cx="412.0" cy="199.0" r="2.5"/><circle cx="405.0" cy="201.5" r="2.5"/><circle cx="398.0" cy="199.0" r="2.5"/><circle cx="392.0" cy="201.5" r="2.5"/><circle cx="386.0" cy="199.0" r="2.5"/></g>
<g class="bl"><circle cx="501.3" cy="118.3" r="2.5"/><circle cx="499.9" cy="177.4" r="2.5"/><circle cx="500.5" cy="160.0" r="2.5"/><circle cx="506.8" cy="117.3" r="2.5"/><circle cx="513.2" cy="182.0" r="2.5"/><circle cx="527.8" cy="196.9" r="2.5"/><circle cx="508.5" cy="178.9" r="2.5"/><circle cx="519.4" cy="197.9" r="2.5"/><circle cx="503.2" cy="150.8" r="2.5"/><circle cx="498.9" cy="138.3" r="2.5"/><circle cx="524.1" cy="171.2" r="2.5"/><circle cx="528.0" cy="178.2" r="2.5"/><circle cx="531.3" cy="176.6" r="2.5"/><circle cx="505.1" cy="190.2" r="2.5"/><circle cx="541.1" cy="185.1" r="2.5"/><circle cx="500.0" cy="149.7" r="2.5"/><circle cx="529.7" cy="193.3" r="2.5"/><circle cx="509.7" cy="197.1" r="2.5"/><circle cx="517.8" cy="152.0" r="2.5"/><circle cx="519.0" cy="178.0" r="2.5"/><circle cx="500.0" cy="183.2" r="2.5"/><circle cx="502.1" cy="192.3" r="2.5"/><circle cx="509.1" cy="124.7" r="2.5"/><circle cx="516.2" cy="195.9" r="2.5"/><circle cx="499.5" cy="113.9" r="2.5"/><circle cx="519.4" cy="186.9" r="2.5"/><circle cx="519.6" cy="159.2" r="2.5"/><circle cx="541.6" cy="181.1" r="2.5"/><circle cx="523.3" cy="161.3" r="2.5"/><circle cx="533.3" cy="197.4" r="2.5"/><circle cx="532.4" cy="201.3" r="2.5"/><circle cx="513.9" cy="186.1" r="2.5"/><circle cx="517.6" cy="173.7" r="2.5"/><circle cx="509.7" cy="200.7" r="2.5"/><circle cx="540.9" cy="199.0" r="2.5"/><circle cx="511.1" cy="118.7" r="2.5"/><circle cx="509.4" cy="190.3" r="2.5"/><circle cx="513.6" cy="173.3" r="2.5"/><circle cx="509.2" cy="182.7" r="2.5"/><circle cx="509.1" cy="171.8" r="2.5"/><circle cx="522.8" cy="195.7" r="2.5"/><circle cx="522.0" cy="188.6" r="2.5"/><circle cx="504.6" cy="172.4" r="2.5"/><circle cx="510.0" cy="164.3" r="2.5"/><circle cx="526.0" cy="168.2" r="2.5"/><circle cx="506.2" cy="130.0" r="2.5"/><circle cx="544.2" cy="192.1" r="2.5"/><circle cx="504.0" cy="141.3" r="2.5"/><circle cx="500.8" cy="145.3" r="2.5"/><circle cx="517.5" cy="192.5" r="2.5"/><circle cx="531.7" cy="188.6" r="2.5"/><circle cx="510.0" cy="158.4" r="2.5"/><circle cx="499.2" cy="121.6" r="2.5"/><circle cx="543.6" cy="195.6" r="2.5"/><circle cx="537.8" cy="179.7" r="2.5"/><circle cx="509.1" cy="113.4" r="2.5"/><circle cx="546.4" cy="187.3" r="2.5"/><circle cx="518.6" cy="166.1" r="2.5"/><circle cx="534.4" cy="186.6" r="2.5"/><circle cx="502.5" cy="181.0" r="2.5"/><circle cx="517.9" cy="169.5" r="2.5"/><circle cx="501.0" cy="172.1" r="2.5"/><circle cx="516.2" cy="201.6" r="2.5"/><circle cx="521.6" cy="181.2" r="2.5"/><circle cx="505.4" cy="198.1" r="2.5"/><circle cx="535.1" cy="181.7" r="2.5"/><circle cx="546.8" cy="198.8" r="2.5"/><circle cx="500.3" cy="129.7" r="2.5"/><circle cx="524.9" cy="180.4" r="2.5"/><circle cx="540.5" cy="202.1" r="2.5"/><circle cx="528.4" cy="201.7" r="2.5"/><circle cx="505.6" cy="135.6" r="2.5"/><circle cx="533.9" cy="193.8" r="2.5"/><circle cx="498.5" cy="142.3" r="2.5"/><circle cx="508.5" cy="151.8" r="2.5"/><circle cx="506.8" cy="138.3" r="2.5"/><circle cx="538.7" cy="188.9" r="2.5"/><circle cx="511.2" cy="175.7" r="2.5"/><circle cx="508.3" cy="167.2" r="2.5"/><circle cx="503.2" cy="186.6" r="2.5"/><circle cx="516.7" cy="157.0" r="2.5"/><circle cx="512.6" cy="153.6" r="2.5"/><circle cx="502.8" cy="201.0" r="2.5"/><circle cx="503.0" cy="162.8" r="2.5"/><circle cx="527.8" cy="187.0" r="2.5"/><circle cx="523.3" cy="174.4" r="2.5"/><circle cx="502.5" cy="155.5" r="2.5"/><circle cx="514.3" cy="166.4" r="2.5"/><circle cx="509.4" cy="132.1" r="2.5"/><circle cx="513.0" cy="189.3" r="2.5"/><circle cx="546.3" cy="202.1" r="2.5"/><circle cx="498.7" cy="191.6" r="2.5"/><circle cx="523.3" cy="191.5" r="2.5"/><circle cx="506.6" cy="187.6" r="2.5"/><circle cx="537.3" cy="201.3" r="2.5"/><circle cx="513.0" cy="161.9" r="2.5"/><circle cx="524.3" cy="186.6" r="2.5"/><circle cx="513.3" cy="148.5" r="2.5"/><circle cx="504.6" cy="177.7" r="2.5"/><circle cx="500.9" cy="197.4" r="2.5"/><circle cx="505.1" cy="166.6" r="2.5"/><circle cx="499.5" cy="125.3" r="2.5"/><circle cx="507.5" cy="121.1" r="2.5"/><circle cx="521.7" cy="165.5" r="2.5"/><circle cx="521.0" cy="172.0" r="2.5"/><circle cx="514.5" cy="178.5" r="2.5"/><circle cx="523.3" cy="198.8" r="2.5"/><circle cx="503.2" cy="112.7" r="2.5"/><circle cx="506.9" cy="148.4" r="2.5"/><circle cx="503.9" cy="122.0" r="2.5"/><circle cx="528.6" cy="173.6" r="2.5"/><circle cx="538.5" cy="196.6" r="2.5"/><circle cx="505.7" cy="159.1" r="2.5"/><circle cx="501.7" cy="168.4" r="2.5"/><circle cx="498.3" cy="169.3" r="2.5"/><circle cx="499.2" cy="156.4" r="2.5"/><circle cx="525.4" cy="176.7" r="2.5"/><circle cx="513.1" cy="200.0" r="2.5"/><circle cx="509.9" cy="139.3" r="2.5"/><circle cx="542.6" cy="188.3" r="2.5"/><circle cx="531.6" cy="182.1" r="2.5"/><circle cx="501.8" cy="137.5" r="2.5"/><circle cx="540.0" cy="193.2" r="2.5"/><circle cx="520.5" cy="154.8" r="2.5"/><circle cx="505.3" cy="126.6" r="2.5"/><circle cx="501.0" cy="188.8" r="2.5"/><circle cx="505.6" cy="144.9" r="2.5"/><circle cx="518.8" cy="183.6" r="2.5"/><circle cx="498.3" cy="186.5" r="2.5"/><circle cx="505.7" cy="154.9" r="2.5"/><circle cx="523.1" cy="156.8" r="2.5"/><circle cx="505.2" cy="194.3" r="2.5"/><circle cx="498.2" cy="153.3" r="2.5"/><circle cx="509.5" cy="193.9" r="2.5"/><circle cx="507.5" cy="142.0" r="2.5"/><circle cx="499.5" cy="200.9" r="2.5"/><circle cx="502.1" cy="134.3" r="2.5"/><circle cx="499.3" cy="165.2" r="2.5"/><circle cx="517.0" cy="180.9" r="2.5"/><circle cx="508.1" cy="175.0" r="2.5"/><circle cx="537.9" cy="183.7" r="2.5"/><circle cx="522.6" cy="151.4" r="2.5"/><circle cx="520.2" cy="162.6" r="2.5"/><circle cx="517.2" cy="161.5" r="2.5"/><circle cx="516.3" cy="147.4" r="2.5"/><circle cx="547.3" cy="191.1" r="2.5"/><circle cx="502.1" cy="126.8" r="2.5"/><circle cx="505.5" cy="181.5" r="2.5"/><circle cx="527.0" cy="183.6" r="2.5"/><circle cx="513.5" cy="144.8" r="2.5"/><circle cx="510.7" cy="143.1" r="2.5"/><circle cx="510.1" cy="147.4" r="2.5"/><circle cx="513.4" cy="157.7" r="2.5"/><circle cx="545.2" cy="183.7" r="2.5"/><circle cx="511.4" cy="169.2" r="2.5"/><circle cx="509.5" cy="135.2" r="2.5"/><circle cx="521.0" cy="201.8" r="2.5"/><circle cx="535.4" cy="189.9" r="2.5"/><circle cx="502.6" cy="175.3" r="2.5"/><circle cx="513.1" cy="196.6" r="2.5"/><circle cx="516.0" cy="188.7" r="2.5"/><circle cx="507.8" cy="162.2" r="2.5"/><circle cx="546.8" cy="194.5" r="2.5"/><circle cx="534.8" cy="177.9" r="2.5"/><circle cx="503.4" cy="147.1" r="2.5"/><circle cx="525.8" cy="158.9" r="2.5"/><circle cx="525.6" cy="164.8" r="2.5"/><circle cx="510.0" cy="186.2" r="2.5"/><circle cx="499.0" cy="194.7" r="2.5"/><circle cx="525.4" cy="193.9" r="2.5"/><circle cx="510.3" cy="128.6" r="2.5"/><circle cx="531.2" cy="185.1" r="2.5"/><circle cx="519.8" cy="149.6" r="2.5"/><circle cx="499.0" cy="174.4" r="2.5"/><circle cx="526.5" cy="190.0" r="2.5"/><circle cx="506.0" cy="201.7" r="2.5"/><circle cx="512.5" cy="193.1" r="2.5"/><circle cx="525.0" cy="201.5" r="2.5"/><circle cx="498.4" cy="134.4" r="2.5"/><circle cx="509.2" cy="154.8" r="2.5"/><circle cx="498.6" cy="117.0" r="2.5"/><circle cx="506.5" cy="111.5" r="2.5"/><circle cx="530.5" cy="198.8" r="2.5"/><circle cx="498.5" cy="180.1" r="2.5"/><circle cx="528.7" cy="170.5" r="2.5"/><circle cx="514.5" cy="169.4" r="2.5"/><circle cx="521.7" cy="184.5" r="2.5"/><circle cx="498.0" cy="198.3" r="2.5"/><circle cx="511.5" cy="111.5" r="2.5"/><circle cx="503.9" cy="116.1" r="2.5"/><circle cx="503.3" cy="131.4" r="2.5"/><circle cx="519.7" cy="194.7" r="2.5"/><circle cx="522.6" cy="178.2" r="2.5"/><circle cx="520.3" cy="175.2" r="2.5"/><circle cx="506.6" cy="170.0" r="2.5"/><circle cx="521.5" cy="168.7" r="2.5"/><circle cx="511.3" cy="115.5" r="2.5"/><circle cx="505.6" cy="184.6" r="2.5"/><circle cx="498.4" cy="147.1" r="2.5"/><circle cx="498.4" cy="162.3" r="2.5"/><circle cx="510.7" cy="121.9" r="2.5"/><circle cx="543.3" cy="201.0" r="2.5"/><circle cx="536.1" cy="198.4" r="2.5"/><circle cx="511.5" cy="179.4" r="2.5"/><circle cx="572.0" cy="199.7" r="2.5"/><circle cx="578.9" cy="199.9" r="2.5"/><circle cx="561.6" cy="189.7" r="2.5"/><circle cx="567.4" cy="189.5" r="2.5"/><circle cx="558.7" cy="201.8" r="2.5"/><circle cx="560.9" cy="187.9" r="2.5"/><circle cx="550.3" cy="195.8" r="2.5"/><circle cx="553.8" cy="192.9" r="2.5"/><circle cx="566.5" cy="194.7" r="2.5"/><circle cx="591.9" cy="193.2" r="2.5"/><circle cx="576.6" cy="189.5" r="2.5"/><circle cx="571.4" cy="193.5" r="2.5"/><circle cx="569.7" cy="192.1" r="2.5"/><circle cx="551.5" cy="193.6" r="2.5"/><circle cx="563.9" cy="194.1" r="2.5"/><circle cx="599.0" cy="199.1" r="2.5"/><circle cx="569.8" cy="187.6" r="2.5"/><circle cx="559.1" cy="192.5" r="2.5"/><circle cx="561.4" cy="189.4" r="2.5"/><circle cx="561.2" cy="187.3" r="2.5"/><circle cx="592.0" cy="201.2" r="2.5"/><circle cx="562.3" cy="188.2" r="2.5"/><circle cx="563.9" cy="186.2" r="2.5"/><circle cx="586.9" cy="191.6" r="2.5"/><circle cx="586.6" cy="190.8" r="2.5"/><circle cx="594.1" cy="195.4" r="2.5"/><circle cx="589.8" cy="197.2" r="2.5"/><circle cx="576.0" cy="188.7" r="2.5"/><circle cx="558.2" cy="190.5" r="2.5"/><circle cx="577.3" cy="188.7" r="2.5"/><circle cx="582.6" cy="200.9" r="2.5"/><circle cx="586.7" cy="198.5" r="2.5"/><circle cx="552.4" cy="192.1" r="2.5"/><circle cx="551.8" cy="194.3" r="2.5"/><circle cx="564.1" cy="198.7" r="2.5"/><circle cx="554.9" cy="192.0" r="2.5"/><circle cx="588.8" cy="199.5" r="2.5"/><circle cx="573.7" cy="188.7" r="2.5"/><circle cx="557.6" cy="195.9" r="2.5"/><circle cx="558.4" cy="191.7" r="2.5"/><circle cx="569.7" cy="198.1" r="2.5"/><circle cx="594.6" cy="198.7" r="2.5"/><circle cx="586.8" cy="199.7" r="2.5"/><circle cx="573.2" cy="193.4" r="2.5"/><circle cx="579.3" cy="191.2" r="2.5"/><circle cx="587.3" cy="195.8" r="2.5"/><circle cx="571.0" cy="199.4" r="2.5"/><circle cx="569.4" cy="189.5" r="2.5"/><circle cx="594.6" cy="201.7" r="2.5"/><circle cx="582.3" cy="192.5" r="2.5"/><circle cx="585.9" cy="194.7" r="2.5"/><circle cx="572.0" cy="187.8" r="2.5"/><circle cx="548.5" cy="194.9" r="2.5"/><circle cx="577.2" cy="197.9" r="2.5"/><circle cx="583.5" cy="194.1" r="2.5"/><circle cx="555.6" cy="187.1" r="2.5"/><circle cx="551.7" cy="185.5" r="2.5"/><circle cx="502.0" cy="29.2" r="2.5"/><circle cx="545.0" cy="53.4" r="2.5"/><circle cx="500.0" cy="61.4" r="2.5"/><circle cx="508.4" cy="76.0" r="2.5"/><circle cx="500.4" cy="78.4" r="2.5"/><circle cx="501.6" cy="83.0" r="2.5"/><circle cx="502.0" cy="94.4" r="2.5"/><circle cx="504.4" cy="97.0" r="2.5"/><circle cx="512.0" cy="95.6" r="2.5"/><circle cx="500.4" cy="102.0" r="2.5"/><circle cx="502.0" cy="109.0" r="2.5"/><circle cx="505.0" cy="109.0" r="2.5"/><circle cx="523.6" cy="108.0" r="2.5"/><circle cx="533.0" cy="107.6" r="2.5"/><circle cx="498.0" cy="114.2" r="2.5"/><circle cx="502.4" cy="111.2" r="2.5"/><circle cx="506.2" cy="110.4" r="2.5"/><circle cx="509.9" cy="113.4" r="2.5"/><circle cx="510.6" cy="117.1" r="2.5"/><circle cx="503.2" cy="117.9" r="2.5"/><circle cx="511.4" cy="125.0" r="2.5"/><circle cx="518.8" cy="135.0" r="2.5"/><circle cx="523.0" cy="134.3" r="2.5"/><circle cx="513.6" cy="137.3" r="2.5"/><circle cx="521.8" cy="153.7" r="2.5"/><circle cx="524.0" cy="157.4" r="2.5"/><circle cx="531.0" cy="159.9" r="2.5"/><circle cx="532.5" cy="163.3" r="2.5"/><circle cx="579.7" cy="129.3" r="2.5"/><circle cx="568.9" cy="172.0" r="2.5"/><circle cx="558.4" cy="176.9" r="2.5"/><circle cx="553.0" cy="179.2" r="2.5"/><circle cx="572.0" cy="179.2" r="2.5"/><circle cx="582.8" cy="179.6" r="2.5"/><circle cx="539.4" cy="178.1" r="2.5"/><circle cx="567.3" cy="182.5" r="2.5"/><circle cx="555.8" cy="184.4" r="2.5"/><circle cx="570.4" cy="180.0" r="2.5"/><circle cx="586.0" cy="183.4" r="2.5"/><circle cx="599.7" cy="183.4" r="2.5"/><circle cx="572.0" cy="188.3" r="2.5"/><circle cx="576.5" cy="190.8" r="2.5"/><circle cx="566.9" cy="191.5" r="2.5"/><circle cx="582.9" cy="190.6" r="2.5"/><circle cx="586.7" cy="192.7" r="2.5"/><circle cx="593.7" cy="187.6" r="2.5"/><circle cx="592.4" cy="190.6" r="2.5"/><circle cx="596.3" cy="190.6" r="2.5"/><circle cx="599.4" cy="191.5" r="2.5"/><circle cx="603.3" cy="192.1" r="2.5"/><circle cx="604.5" cy="194.0" r="2.5"/><circle cx="624.3" cy="194.0" r="2.5"/><circle cx="627.5" cy="195.3" r="2.5"/><circle cx="638.3" cy="195.3" r="2.5"/><circle cx="611.6" cy="195.7" r="2.5"/><circle cx="633.9" cy="196.2" r="2.5"/><circle cx="602.1" cy="190.9" r="2.5"/><circle cx="670.2" cy="201.5" r="2.5"/><circle cx="666.0" cy="201.5" r="2.5"/><circle cx="545.0" cy="182.0" r="2.5"/><circle cx="550.0" cy="186.0" r="2.5"/><circle cx="560.0" cy="188.0" r="2.5"/><circle cx="578.0" cy="187.0" r="2.5"/><circle cx="590.0" cy="195.0" r="2.5"/><circle cx="615.0" cy="197.0" r="2.5"/><circle cx="645.0" cy="197.0" r="2.5"/><circle cx="652.0" cy="195.5" r="2.5"/><circle cx="658.0" cy="198.0" r="2.5"/><circle cx="664.0" cy="196.0" r="2.5"/><circle cx="672.0" cy="199.0" r="2.5"/></g>
<g class="rd"><circle cx="516.5" cy="185.3" r="2.5"/><circle cx="560.0" cy="196.7" r="2.5"/><circle cx="533.7" cy="199.4" r="2.5"/><circle cx="548.1" cy="196.7" r="2.5"/><circle cx="533.0" cy="189.8" r="2.5"/><circle cx="556.8" cy="193.5" r="2.5"/><circle cx="563.0" cy="198.1" r="2.5"/><circle cx="542.7" cy="190.5" r="2.5"/><circle cx="515.7" cy="201.2" r="2.5"/><circle cx="503.9" cy="190.3" r="2.5"/><circle cx="524.2" cy="183.2" r="2.5"/><circle cx="500.5" cy="187.9" r="2.5"/><circle cx="548.0" cy="199.4" r="2.5"/><circle cx="516.6" cy="191.7" r="2.5"/><circle cx="506.6" cy="193.6" r="2.5"/><circle cx="515.3" cy="194.5" r="2.5"/><circle cx="534.1" cy="191.9" r="2.5"/><circle cx="504.5" cy="201.3" r="2.5"/><circle cx="569.6" cy="198.8" r="2.5"/><circle cx="556.1" cy="196.3" r="2.5"/><circle cx="545.0" cy="188.6" r="2.5"/><circle cx="584.9" cy="200.5" r="2.5"/><circle cx="512.2" cy="185.1" r="2.5"/><circle cx="528.3" cy="190.3" r="2.5"/><circle cx="526.6" cy="188.5" r="2.5"/><circle cx="554.3" cy="193.5" r="2.5"/><circle cx="540.1" cy="192.1" r="2.5"/><circle cx="529.5" cy="184.7" r="2.5"/><circle cx="539.8" cy="196.6" r="2.5"/><circle cx="517.4" cy="183.0" r="2.5"/><circle cx="519.4" cy="190.1" r="2.5"/><circle cx="511.5" cy="195.3" r="2.5"/><circle cx="583.3" cy="197.0" r="2.5"/><circle cx="503.8" cy="184.8" r="2.5"/><circle cx="513.9" cy="182.8" r="2.5"/><circle cx="502.1" cy="183.1" r="2.5"/><circle cx="593.2" cy="200.6" r="2.5"/><circle cx="591.7" cy="198.5" r="2.5"/><circle cx="533.0" cy="194.4" r="2.5"/><circle cx="582.4" cy="199.7" r="2.5"/><circle cx="603.3" cy="199.9" r="2.5"/><circle cx="506.8" cy="197.6" r="2.5"/><circle cx="517.0" cy="198.9" r="2.5"/><circle cx="508.3" cy="191.6" r="2.5"/><circle cx="531.5" cy="187.1" r="2.5"/><circle cx="574.0" cy="201.1" r="2.5"/><circle cx="547.4" cy="189.2" r="2.5"/><circle cx="523.3" cy="192.5" r="2.5"/><circle cx="586.9" cy="197.5" r="2.5"/><circle cx="559.5" cy="193.4" r="2.5"/><circle cx="542.8" cy="197.5" r="2.5"/><circle cx="501.7" cy="192.5" r="2.5"/><circle cx="521.0" cy="187.2" r="2.5"/><circle cx="535.0" cy="187.0" r="2.5"/><circle cx="514.8" cy="187.0" r="2.5"/><circle cx="542.2" cy="194.9" r="2.5"/><circle cx="543.9" cy="201.1" r="2.5"/><circle cx="526.7" cy="193.6" r="2.5"/><circle cx="529.9" cy="196.0" r="2.5"/><circle cx="519.7" cy="182.2" r="2.5"/><circle cx="506.6" cy="184.1" r="2.5"/><circle cx="523.7" cy="187.9" r="2.5"/><circle cx="554.4" cy="200.0" r="2.5"/><circle cx="532.1" cy="196.9" r="2.5"/><circle cx="513.4" cy="200.1" r="2.5"/><circle cx="509.6" cy="181.0" r="2.5"/><circle cx="538.8" cy="188.2" r="2.5"/><circle cx="521.2" cy="201.2" r="2.5"/><circle cx="525.9" cy="196.5" r="2.5"/><circle cx="559.5" cy="201.5" r="2.5"/><circle cx="519.4" cy="194.9" r="2.5"/><circle cx="570.4" cy="195.1" r="2.5"/><circle cx="573.6" cy="195.5" r="2.5"/><circle cx="501.1" cy="195.5" r="2.5"/><circle cx="580.0" cy="200.6" r="2.5"/><circle cx="509.3" cy="185.5" r="2.5"/><circle cx="509.5" cy="199.4" r="2.5"/><circle cx="520.1" cy="192.5" r="2.5"/><circle cx="599.9" cy="200.6" r="2.5"/><circle cx="550.7" cy="196.7" r="2.5"/><circle cx="515.2" cy="197.2" r="2.5"/><circle cx="537.4" cy="194.7" r="2.5"/><circle cx="526.4" cy="185.4" r="2.5"/><circle cx="580.0" cy="197.7" r="2.5"/><circle cx="565.0" cy="195.3" r="2.5"/><circle cx="541.5" cy="201.3" r="2.5"/><circle cx="511.9" cy="191.9" r="2.5"/><circle cx="566.8" cy="199.6" r="2.5"/><circle cx="547.4" cy="194.2" r="2.5"/><circle cx="551.1" cy="201.2" r="2.5"/><circle cx="589.5" cy="200.7" r="2.5"/><circle cx="524.0" cy="199.7" r="2.5"/><circle cx="545.2" cy="191.6" r="2.5"/><circle cx="506.8" cy="188.4" r="2.5"/><circle cx="597.5" cy="198.4" r="2.5"/><circle cx="535.5" cy="197.6" r="2.5"/><circle cx="522.2" cy="184.6" r="2.5"/><circle cx="567.5" cy="196.4" r="2.5"/><circle cx="577.9" cy="195.7" r="2.5"/><circle cx="520.5" cy="198.9" r="2.5"/><circle cx="503.9" cy="187.7" r="2.5"/><circle cx="530.5" cy="199.2" r="2.5"/><circle cx="562.4" cy="194.4" r="2.5"/><circle cx="541.5" cy="187.7" r="2.5"/><circle cx="597.1" cy="201.0" r="2.5"/><circle cx="515.8" cy="180.6" r="2.5"/><circle cx="539.7" cy="199.4" r="2.5"/><circle cx="500.6" cy="198.2" r="2.5"/><circle cx="522.2" cy="197.1" r="2.5"/><circle cx="519.3" cy="185.0" r="2.5"/><circle cx="503.5" cy="198.5" r="2.5"/><circle cx="550.6" cy="193.9" r="2.5"/><circle cx="551.3" cy="190.2" r="2.5"/><circle cx="499.6" cy="183.9" r="2.5"/><circle cx="517.3" cy="189.0" r="2.5"/><circle cx="575.8" cy="197.9" r="2.5"/><circle cx="537.3" cy="201.0" r="2.5"/><circle cx="548.0" cy="191.7" r="2.5"/><circle cx="536.8" cy="190.6" r="2.5"/><circle cx="525.0" cy="190.8" r="2.5"/><circle cx="510.1" cy="189.4" r="2.5"/><circle cx="507.2" cy="201.4" r="2.5"/><circle cx="504.2" cy="193.0" r="2.5"/><circle cx="513.7" cy="190.1" r="2.5"/><circle cx="500.7" cy="201.5" r="2.5"/><circle cx="528.3" cy="201.7" r="2.5"/><circle cx="512.2" cy="187.9" r="2.5"/><circle cx="531.2" cy="192.2" r="2.5"/><circle cx="512.0" cy="198.1" r="2.5"/><circle cx="557.9" cy="198.7" r="2.5"/><circle cx="505.8" cy="180.7" r="2.5"/><circle cx="564.1" cy="200.3" r="2.5"/><circle cx="572.0" cy="198.1" r="2.5"/><circle cx="504.3" cy="195.8" r="2.5"/><circle cx="509.0" cy="194.2" r="2.5"/><circle cx="545.2" cy="196.2" r="2.5"/><circle cx="511.1" cy="201.3" r="2.5"/><circle cx="570.2" cy="201.3" r="2.5"/><circle cx="577.3" cy="200.8" r="2.5"/><circle cx="553.3" cy="197.0" r="2.5"/><circle cx="522.1" cy="181.9" r="2.5"/><circle cx="556.4" cy="201.7" r="2.5"/><circle cx="527.9" cy="198.6" r="2.5"/><circle cx="509.3" cy="196.7" r="2.5"/><circle cx="553.5" cy="191.0" r="2.5"/><circle cx="525.6" cy="201.7" r="2.5"/><circle cx="523.6" cy="195.1" r="2.5"/><circle cx="530.9" cy="201.7" r="2.5"/><circle cx="518.6" cy="201.0" r="2.5"/><circle cx="529.0" cy="187.7" r="2.5"/><circle cx="594.5" cy="198.1" r="2.5"/><circle cx="512.5" cy="180.3" r="2.5"/><circle cx="500.6" cy="190.4" r="2.5"/><circle cx="517.5" cy="196.5" r="2.5"/><circle cx="561.4" cy="199.9" r="2.5"/><circle cx="589.8" cy="197.1" r="2.5"/><circle cx="522.2" cy="190.3" r="2.5"/><circle cx="601.3" cy="198.1" r="2.5"/><circle cx="545.0" cy="198.7" r="2.5"/><circle cx="529.1" cy="193.7" r="2.5"/><circle cx="534.7" cy="201.6" r="2.5"/><circle cx="510.4" cy="183.3" r="2.5"/><circle cx="546.5" cy="201.5" r="2.5"/><circle cx="526.6" cy="182.7" r="2.5"/><circle cx="501.3" cy="185.7" r="2.5"/><circle cx="587.1" cy="201.4" r="2.5"/><circle cx="619.2" cy="194.6" r="2.5"/><circle cx="614.7" cy="195.9" r="2.5"/><circle cx="638.3" cy="201.5" r="2.5"/><circle cx="651.0" cy="196.2" r="2.5"/><circle cx="655.7" cy="201.5" r="2.5"/><circle cx="666.4" cy="195.1" r="2.5"/><circle cx="631.9" cy="201.5" r="2.5"/><circle cx="600.0" cy="201.0" r="2.5"/><circle cx="606.0" cy="199.5" r="2.5"/><circle cx="612.0" cy="202.0" r="2.5"/><circle cx="625.0" cy="200.0" r="2.5"/><circle cx="644.0" cy="202.0" r="2.5"/><circle cx="660.0" cy="201.0" r="2.5"/><circle cx="672.0" cy="200.5" r="2.5"/><circle cx="677.0" cy="201.0" r="2.5"/></g>
<path d="M56.6,162.8 56.8,164.0 57.1,165.2 57.4,166.3 57.7,167.5 58.0,168.7 58.3,169.9 58.7,171.0 59.0,172.2 59.4,173.3 59.8,174.5 60.2,175.6 60.7,176.7 61.1,177.9 61.6,179.0 62.1,180.1 62.7,181.1 63.3,182.2 63.9,183.2 64.5,184.3 65.2,185.3 66.0,186.2 66.8,187.1 67.6,188.0 68.5,188.9 69.4,189.7 70.3,190.4 71.3,191.1 72.4,191.7 73.4,192.3 74.5,192.9 75.6,193.4 76.7,193.8 77.9,194.2 79.0,194.6 80.2,195.0 81.4,195.3 82.5,195.6 83.7,195.8 84.9,196.1 86.1,196.3 87.3,196.5 88.5,196.7 89.7,196.9 90.9,197.0 92.1,197.2 93.3,197.3 94.5,197.4 95.7,197.5 96.9,197.6 98.1,197.7 99.3,197.8 100.5,197.9 101.8,198.0 103.0,198.1 104.2,198.1 105.4,198.2 106.6,198.2 107.8,198.3 109.0,198.3 110.2,198.4 111.4,198.4 112.7,198.5 113.9,198.5 115.1,198.5 116.3,198.6 117.5,198.6 118.7,198.6 119.9,198.7 121.1,198.7 122.3,198.7 123.6,198.7 124.8,198.7 126.0,198.8 127.2,198.8 128.4,198.8 129.6,198.8 130.8,198.8 132.0,198.8 133.3,198.8 134.5,198.9 135.7,198.9 136.9,198.9 138.1,198.9 139.3,198.9 140.5,198.9 141.7,198.9 143.0,198.9 144.2,198.9 145.4,198.9 146.6,198.9 147.8,198.9 149.0,198.9 150.2,198.9 151.4,198.9 152.7,198.9 153.9,199.0 155.1,199.0 156.3,199.0 157.5,199.0 158.7,199.0 159.9,199.0 161.1,199.0 162.3,199.0 163.6,199.0 164.8,199.0 166.0,199.0 167.2,199.0 168.4,199.0 169.6,199.0 170.8,199.0 172.0,199.0 173.3,199.0 174.5,199.0 175.7,199.0 176.9,199.0 178.1,199.0 179.3,199.0 180.5,199.0 181.7,199.0 183.0,199.0 184.2,199.0 185.4,199.0 186.6,199.0 187.8,199.0 189.0,199.0 190.2,199.0 191.4,199.0 192.7,199.0 193.9,199.0 195.1,199.0 196.3,199.0 197.5,199.0 198.7,199.0 199.9,199.0 201.1,199.0 202.4,199.0 203.6,199.0 204.8,199.0 206.0,199.0 207.2,199.0 208.4,199.0 209.6,199.0 210.8,199.0 212.1,199.0 213.3,199.0 214.5,199.0 215.7,199.0 216.9,199.0" fill="none" stroke="#2f64ab" stroke-width="2.35" stroke-linecap="round" stroke-linejoin="round"/>
<path d="M56.8,188.6 57.9,189.1 59.0,189.6 60.1,190.1 61.2,190.6 62.4,191.0 63.5,191.5 64.7,191.9 65.8,192.3 67.0,192.7 68.1,193.1 69.3,193.5 70.5,193.8 71.6,194.2 72.8,194.5 74.0,194.8 75.2,195.1 76.4,195.4 77.6,195.7 78.8,195.9 80.0,196.2 81.2,196.4 82.4,196.7 83.6,196.9 84.8,197.1 86.0,197.3 87.2,197.5 88.4,197.7 89.6,197.9 90.8,198.1 92.0,198.3 93.2,198.4 94.5,198.6 95.7,198.7 96.9,198.9 98.1,199.0 99.3,199.1 100.5,199.3 101.8,199.4 103.0,199.5 104.2,199.6 105.4,199.7 106.6,199.8 107.9,199.9 109.1,200.0 110.3,200.1 111.5,200.2 112.7,200.3 114.0,200.4 115.2,200.4 116.4,200.5 117.6,200.6 118.9,200.6 120.1,200.7 121.3,200.8 122.5,200.8 123.7,200.9 125.0,200.9 126.2,201.0 127.4,201.0 128.6,201.1 129.9,201.1 131.1,201.2 132.3,201.2 133.5,201.2 134.8,201.3 136.0,201.3 137.2,201.4 138.4,201.4 139.6,201.4 140.9,201.5 142.1,201.5 143.3,201.5 144.5,201.5 145.8,201.6 147.0,201.6 148.2,201.6 149.4,201.6 150.7,201.7 151.9,201.7 153.1,201.7 154.3,201.7 155.6,201.7 156.8,201.7 158.0,201.8 159.2,201.8 160.5,201.8 161.7,201.8 162.9,201.8 164.1,201.8 165.4,201.9 166.6,201.9 167.8,201.9" fill="none" stroke="#c22024" stroke-width="2.35" stroke-linecap="round" stroke-linejoin="round"/>
<path d="M279.0,176.4 280.0,177.2 281.0,177.9 282.0,178.6 283.0,179.3 284.0,179.9 285.0,180.6 286.1,181.2 287.1,181.8 288.2,182.4 289.3,182.9 290.4,183.5 291.5,184.0 292.6,184.5 293.7,184.9 294.8,185.4 296.0,185.9 297.1,186.3 298.2,186.7 299.4,187.1 300.5,187.5 301.7,187.8 302.9,188.2 304.0,188.5 305.2,188.9 306.4,189.2 307.6,189.5 308.7,189.8 309.9,190.1 311.1,190.4 312.3,190.6 313.5,190.9 314.7,191.1 315.9,191.4 317.0,191.6 318.2,191.8 319.4,192.1 320.6,192.3 321.8,192.5 323.0,192.7 324.2,192.9 325.4,193.1 326.6,193.2 327.8,193.4 329.1,193.6 330.3,193.7 331.5,193.9 332.7,194.0 333.9,194.2 335.1,194.3 336.3,194.5 337.5,194.6 338.7,194.7 339.9,194.8 341.1,195.0 342.3,195.1 343.6,195.2 344.8,195.3 346.0,195.4 347.2,195.5 348.4,195.6 349.6,195.7 350.8,195.8 352.0,195.9 353.3,196.0 354.5,196.0 355.7,196.1 356.9,196.2 358.1,196.3 359.3,196.4 360.5,196.4 361.8,196.5 363.0,196.6 364.2,196.6 365.4,196.7 366.6,196.7 367.8,196.8 369.0,196.9 370.3,196.9 371.5,197.0 372.7,197.0 373.9,197.1 375.1,197.1 376.3,197.2 377.6,197.2 378.8,197.3 380.0,197.3 381.2,197.3 382.4,197.4 383.6,197.4 384.9,197.5 386.1,197.5 387.3,197.5 388.5,197.6 389.7,197.6 390.9,197.6 392.1,197.7 393.4,197.7 394.6,197.7 395.8,197.7 397.0,197.8 398.2,197.8 399.4,197.8 400.7,197.8 401.9,197.9 403.1,197.9 404.3,197.9 405.5,197.9 406.7,198.0 408.0,198.0 409.2,198.0 410.4,198.0 411.6,198.0 412.8,198.0 414.0,198.1 415.3,198.1 416.5,198.1 417.7,198.1 418.9,198.1 420.1,198.1 421.3,198.2 422.6,198.2 423.8,198.2 425.0,198.2 426.2,198.2 427.4,198.2 428.6,198.2 429.9,198.2 431.1,198.3 432.3,198.3 433.5,198.3 434.7,198.3 435.9,198.3 437.2,198.3 438.4,198.3 439.6,198.3 440.8,198.3" fill="none" stroke="#2f64ab" stroke-width="2.35" stroke-linecap="round" stroke-linejoin="round"/>
<path d="M280.6,192.3 281.8,192.5 283.0,192.6 284.2,192.8 285.4,193.0 286.6,193.1 287.8,193.3 289.0,193.5 290.2,193.6 291.4,193.8 292.6,193.9 293.8,194.1 295.0,194.2 296.2,194.3 297.4,194.5 298.6,194.6 299.8,194.8 301.0,194.9 302.2,195.0 303.4,195.1 304.6,195.3 305.8,195.4 307.0,195.5 308.2,195.6 309.4,195.7 310.6,195.9 311.8,196.0 313.0,196.1 314.2,196.2 315.5,196.3 316.7,196.4 317.9,196.5 319.1,196.6 320.3,196.7 321.5,196.8 322.7,196.9 323.9,197.0 325.1,197.1 326.3,197.1 327.5,197.2 328.7,197.3 329.9,197.4 331.2,197.5 332.4,197.6 333.6,197.6 334.8,197.7 336.0,197.8 337.2,197.9 338.4,197.9 339.6,198.0 340.8,198.1 342.0,198.2 343.2,198.2 344.5,198.3 345.7,198.4 346.9,198.4 348.1,198.5 349.3,198.5 350.5,198.6 351.7,198.7 352.9,198.7 354.1,198.8 355.3,198.8 356.5,198.9 357.8,199.0 359.0,199.0 360.2,199.1 361.4,199.1 362.6,199.2 363.8,199.2 365.0,199.3 366.2,199.3 367.4,199.4 368.7,199.4 369.9,199.4 371.1,199.5 372.3,199.5 373.5,199.6 374.7,199.6 375.9,199.7 377.1,199.7 378.3,199.7 379.5,199.8 380.8,199.8 382.0,199.9 383.2,199.9 384.4,199.9 385.6,200.0 386.8,200.0 388.0,200.0 389.2,200.1 390.4,200.1 391.7,200.1 392.9,200.2 394.1,200.2 395.3,200.2 396.5,200.3 397.7,200.3 398.9,200.3 400.1,200.3 401.3,200.4 402.5,200.4 403.8,200.4 405.0,200.5 406.2,200.5 407.4,200.5 408.6,200.5 409.8,200.6 411.0,200.6 412.2,200.6 413.4,200.6 414.7,200.6 415.9,200.7 417.1,200.7 418.3,200.7 419.5,200.7 420.7,200.8 421.9,200.8 423.1,200.8 424.3,200.8 425.6,200.8 426.8,200.9 428.0,200.9 429.2,200.9 430.4,200.9 431.6,200.9 432.8,200.9 434.0,201.0 435.2,201.0 436.5,201.0 437.7,201.0 438.9,201.0 440.1,201.0 441.3,201.1" fill="none" stroke="#c22024" stroke-width="2.35" stroke-linecap="round" stroke-linejoin="round"/>
<path d="M497.8,174.1 498.6,175.0 499.5,175.9 500.3,176.7 501.2,177.6 502.1,178.4 503.0,179.2 503.9,180.0 504.8,180.8 505.8,181.5 506.7,182.2 507.7,182.9 508.7,183.6 509.7,184.3 510.7,184.9 511.8,185.6 512.8,186.2 513.9,186.7 514.9,187.3 516.0,187.8 517.1,188.3 518.2,188.8 519.3,189.3 520.5,189.7 521.6,190.2 522.7,190.6 523.9,191.0 525.0,191.3 526.2,191.7 527.3,192.0 528.5,192.3 529.7,192.6 530.9,192.9 532.0,193.2 533.2,193.5 534.4,193.7 535.6,194.0 536.8,194.2 538.0,194.4 539.1,194.6 540.3,194.8 541.5,195.0 542.7,195.1 543.9,195.3 545.1,195.4 546.3,195.6 547.5,195.7 548.7,195.9 549.9,196.0 551.1,196.1 552.3,196.2 553.5,196.3 554.7,196.4 555.9,196.5 557.1,196.6 558.4,196.7 559.6,196.7 560.8,196.8 562.0,196.9 563.2,197.0 564.4,197.0 565.6,197.1 566.8,197.1 568.0,197.2 569.2,197.2 570.4,197.3 571.6,197.3 572.8,197.4 574.0,197.4 575.2,197.4 576.5,197.5 577.7,197.5 578.9,197.5 580.1,197.6 581.3,197.6 582.5,197.6 583.7,197.7 584.9,197.7 586.1,197.7 587.3,197.7 588.5,197.7 589.7,197.8 590.9,197.8 592.2,197.8 593.4,197.8 594.6,197.8 595.8,197.8 597.0,197.9 598.2,197.9 599.4,197.9 600.6,197.9 601.8,197.9 603.0,197.9 604.2,197.9 605.4,197.9 606.7,197.9 607.9,198.0 609.1,198.0 610.3,198.0 611.5,198.0 612.7,198.0 613.9,198.0 615.1,198.0 616.3,198.0 617.5,198.0 618.7,198.0 619.9,198.0 621.2,198.0 622.4,198.0 623.6,198.0 624.8,198.0 626.0,198.0 627.2,198.0 628.4,198.0 629.6,198.0 630.8,198.0 632.0,198.0 633.2,198.1 634.4,198.1 635.6,198.1 636.9,198.1 638.1,198.1 639.3,198.1 640.5,198.1 641.7,198.1 642.9,198.1 644.1,198.1 645.3,198.1 646.5,198.1 647.7,198.1 648.9,198.1 650.1,198.1 651.4,198.1 652.6,198.1 653.8,198.1 655.0,198.1 656.2,198.1 657.4,198.1 658.6,198.1 659.8,198.1 661.0,198.1 662.2,198.1 663.4,198.1 664.6,198.1 665.9,198.1 667.1,198.1 668.3,198.1 669.5,198.1 670.7,198.1 671.9,198.1 673.1,198.1" fill="none" stroke="#2f64ab" stroke-width="2.35" stroke-linecap="round" stroke-linejoin="round"/>
<path d="M499.2,190.3 500.4,190.6 501.5,190.9 502.7,191.3 503.9,191.6 505.1,191.8 506.3,192.1 507.4,192.4 508.6,192.7 509.8,192.9 511.0,193.2 512.2,193.4 513.4,193.7 514.6,193.9 515.8,194.1 517.0,194.3 518.2,194.5 519.4,194.7 520.6,194.9 521.8,195.1 523.0,195.3 524.2,195.5 525.4,195.7 526.6,195.8 527.8,196.0 529.0,196.1 530.2,196.3 531.4,196.4 532.6,196.6 533.8,196.7 535.0,196.9 536.2,197.0 537.4,197.1 538.6,197.2 539.8,197.4 541.1,197.5 542.3,197.6 543.5,197.7 544.7,197.8 545.9,197.9 547.1,198.0 548.3,198.1 549.5,198.2 550.7,198.3 552.0,198.4 553.2,198.4 554.4,198.5 555.6,198.6 556.8,198.7 558.0,198.7 559.2,198.8 560.4,198.9 561.7,198.9 562.9,199.0 564.1,199.1 565.3,199.1 566.5,199.2 567.7,199.3 568.9,199.3 570.2,199.4 571.4,199.4 572.6,199.5 573.8,199.5 575.0,199.6 576.2,199.6 577.4,199.6 578.7,199.7 579.9,199.7 581.1,199.8 582.3,199.8 583.5,199.8 584.7,199.9 585.9,199.9 587.2,199.9 588.4,200.0 589.6,200.0 590.8,200.0 592.0,200.1 593.2,200.1 594.4,200.1 595.7,200.2 596.9,200.2 598.1,200.2 599.3,200.2 600.5,200.3 601.7,200.3 602.9,200.3 604.2,200.3 605.4,200.3 606.6,200.4 607.8,200.4 609.0,200.4 610.2,200.4 611.5,200.4 612.7,200.5 613.9,200.5 615.1,200.5 616.3,200.5 617.5,200.5 618.7,200.5 620.0,200.5 621.2,200.6 622.4,200.6 623.6,200.6 624.8,200.6 626.0,200.6 627.2,200.6 628.5,200.6 629.7,200.6 630.9,200.7 632.1,200.7 633.3,200.7 634.5,200.7 635.8,200.7 637.0,200.7 638.2,200.7 639.4,200.7 640.6,200.7 641.8,200.7 643.0,200.7 644.3,200.8 645.5,200.8 646.7,200.8 647.9,200.8 649.1,200.8 650.3,200.8 651.6,200.8 652.8,200.8 654.0,200.8 655.2,200.8 656.4,200.8 657.6,200.8 658.8,200.8 660.1,200.8 661.3,200.8 662.5,200.8 663.7,200.8 664.9,200.8 666.1,200.8 667.3,200.9 668.6,200.9 669.8,200.9 671.0,200.9 672.2,200.9 673.4,200.9 674.6,200.9 675.9,200.9 677.1,200.9 678.3,200.9 679.5,200.9" fill="none" stroke="#c22024" stroke-width="2.35" stroke-linecap="round" stroke-linejoin="round"/>
<path d="M47.10,16.50H235.90M47.10,208.30H235.90" stroke="#4d4d4d" stroke-width="1.05"/>
<path d="M47.70,16.50V208.30M235.30,16.50V208.30" stroke="#7f7f7f" stroke-width="1.3"/>
<line x1="44.70" y1="208.30" x2="47.70" y2="208.30" stroke="#4d4d4d" stroke-width="1"/>
<text x="42.50" y="212.40" text-anchor="end" font-size="11.6" fill="#111" stroke="#111" stroke-width="0.3">0</text>
<line x1="44.70" y1="148.30" x2="47.70" y2="148.30" stroke="#4d4d4d" stroke-width="1"/>
<text x="42.50" y="152.40" text-anchor="end" font-size="11.6" fill="#111" stroke="#111" stroke-width="0.3">1000</text>
<line x1="44.70" y1="88.30" x2="47.70" y2="88.30" stroke="#4d4d4d" stroke-width="1"/>
<text x="42.50" y="92.40" text-anchor="end" font-size="11.6" fill="#111" stroke="#111" stroke-width="0.3">2000</text>
<line x1="44.70" y1="28.30" x2="47.70" y2="28.30" stroke="#4d4d4d" stroke-width="1"/>
<text x="42.50" y="32.40" text-anchor="end" font-size="11.6" fill="#111" stroke="#111" stroke-width="0.3">3000</text>
<line x1="45.70" y1="178.30" x2="47.70" y2="178.30" stroke="#4d4d4d" stroke-width="0.9"/>
<line x1="45.70" y1="118.30" x2="47.70" y2="118.30" stroke="#4d4d4d" stroke-width="0.9"/>
<line x1="45.70" y1="58.30" x2="47.70" y2="58.30" stroke="#4d4d4d" stroke-width="0.9"/>
<line x1="56.00" y1="208.30" x2="56.00" y2="211.30" stroke="#7f7f7f" stroke-width="1.2"/>
<text x="56.00" y="222.90" text-anchor="middle" font-size="11.6" fill="#111" stroke="#111" stroke-width="0.3">0</text>
<line x1="137.25" y1="208.30" x2="137.25" y2="211.30" stroke="#7f7f7f" stroke-width="1.2"/>
<text x="137.25" y="222.90" text-anchor="middle" font-size="11.6" fill="#111" stroke="#111" stroke-width="0.3">5</text>
<line x1="218.50" y1="208.30" x2="218.50" y2="211.30" stroke="#7f7f7f" stroke-width="1.2"/>
<text x="218.50" y="222.90" text-anchor="middle" font-size="11.6" fill="#111" stroke="#111" stroke-width="0.3">10</text>
<line x1="96.62" y1="208.30" x2="96.62" y2="210.30" stroke="#7f7f7f" stroke-width="1.1"/>
<line x1="177.88" y1="208.30" x2="177.88" y2="210.30" stroke="#7f7f7f" stroke-width="1.1"/>
<path d="M269.70,16.50H458.20M269.70,208.30H458.20" stroke="#4d4d4d" stroke-width="1.05"/>
<path d="M270.30,16.50V208.30M457.60,16.50V208.30" stroke="#7f7f7f" stroke-width="1.3"/>
<line x1="267.30" y1="208.30" x2="270.30" y2="208.30" stroke="#4d4d4d" stroke-width="1"/>
<text x="265.10" y="212.40" text-anchor="end" font-size="11.6" fill="#111" stroke="#111" stroke-width="0.3">0</text>
<line x1="267.30" y1="148.30" x2="270.30" y2="148.30" stroke="#4d4d4d" stroke-width="1"/>
<text x="265.10" y="152.40" text-anchor="end" font-size="11.6" fill="#111" stroke="#111" stroke-width="0.3">1000</text>
<line x1="267.30" y1="88.30" x2="270.30" y2="88.30" stroke="#4d4d4d" stroke-width="1"/>
<text x="265.10" y="92.40" text-anchor="end" font-size="11.6" fill="#111" stroke="#111" stroke-width="0.3">2000</text>
<line x1="267.30" y1="28.30" x2="270.30" y2="28.30" stroke="#4d4d4d" stroke-width="1"/>
<text x="265.10" y="32.40" text-anchor="end" font-size="11.6" fill="#111" stroke="#111" stroke-width="0.3">3000</text>
<line x1="268.30" y1="178.30" x2="270.30" y2="178.30" stroke="#4d4d4d" stroke-width="0.9"/>
<line x1="268.30" y1="118.30" x2="270.30" y2="118.30" stroke="#4d4d4d" stroke-width="0.9"/>
<line x1="268.30" y1="58.30" x2="270.30" y2="58.30" stroke="#4d4d4d" stroke-width="0.9"/>
<line x1="270.30" y1="208.30" x2="270.30" y2="211.30" stroke="#7f7f7f" stroke-width="1.2"/>
<text x="270.30" y="222.90" text-anchor="middle" font-size="11.6" fill="#111" stroke="#111" stroke-width="0.3">0</text>
<line x1="355.45" y1="208.30" x2="355.45" y2="211.30" stroke="#7f7f7f" stroke-width="1.2"/>
<text x="355.45" y="222.90" text-anchor="middle" font-size="11.6" fill="#111" stroke="#111" stroke-width="0.3">5</text>
<line x1="440.60" y1="208.30" x2="440.60" y2="211.30" stroke="#7f7f7f" stroke-width="1.2"/>
<text x="440.60" y="222.90" text-anchor="middle" font-size="11.6" fill="#111" stroke="#111" stroke-width="0.3">10</text>
<line x1="312.88" y1="208.30" x2="312.88" y2="210.30" stroke="#7f7f7f" stroke-width="1.1"/>
<line x1="398.03" y1="208.30" x2="398.03" y2="210.30" stroke="#7f7f7f" stroke-width="1.1"/>
<path d="M491.90,16.50H681.20M491.90,208.30H681.20" stroke="#4d4d4d" stroke-width="1.05"/>
<path d="M492.50,16.50V208.30M680.60,16.50V208.30" stroke="#7f7f7f" stroke-width="1.3"/>
<line x1="489.50" y1="208.30" x2="492.50" y2="208.30" stroke="#4d4d4d" stroke-width="1"/>
<text x="487.30" y="212.40" text-anchor="end" font-size="11.6" fill="#111" stroke="#111" stroke-width="0.3">0</text>
<line x1="489.50" y1="148.30" x2="492.50" y2="148.30" stroke="#4d4d4d" stroke-width="1"/>
<text x="487.30" y="152.40" text-anchor="end" font-size="11.6" fill="#111" stroke="#111" stroke-width="0.3">1000</text>
<line x1="489.50" y1="88.30" x2="492.50" y2="88.30" stroke="#4d4d4d" stroke-width="1"/>
<text x="487.30" y="92.40" text-anchor="end" font-size="11.6" fill="#111" stroke="#111" stroke-width="0.3">2000</text>
<line x1="489.50" y1="28.30" x2="492.50" y2="28.30" stroke="#4d4d4d" stroke-width="1"/>
<text x="487.30" y="32.40" text-anchor="end" font-size="11.6" fill="#111" stroke="#111" stroke-width="0.3">3000</text>
<line x1="490.50" y1="178.30" x2="492.50" y2="178.30" stroke="#4d4d4d" stroke-width="0.9"/>
<line x1="490.50" y1="118.30" x2="492.50" y2="118.30" stroke="#4d4d4d" stroke-width="0.9"/>
<line x1="490.50" y1="58.30" x2="492.50" y2="58.30" stroke="#4d4d4d" stroke-width="0.9"/>
<line x1="492.50" y1="208.30" x2="492.50" y2="211.30" stroke="#7f7f7f" stroke-width="1.2"/>
<text x="492.50" y="222.90" text-anchor="middle" font-size="11.6" fill="#111" stroke="#111" stroke-width="0.3">0</text>
<line x1="537.23" y1="208.30" x2="537.23" y2="211.30" stroke="#7f7f7f" stroke-width="1.2"/>
<text x="537.23" y="222.90" text-anchor="middle" font-size="11.6" fill="#111" stroke="#111" stroke-width="0.3">5</text>
<line x1="581.95" y1="208.30" x2="581.95" y2="211.30" stroke="#7f7f7f" stroke-width="1.2"/>
<text x="581.95" y="222.90" text-anchor="middle" font-size="11.6" fill="#111" stroke="#111" stroke-width="0.3">10</text>
<line x1="626.67" y1="208.30" x2="626.67" y2="211.30" stroke="#7f7f7f" stroke-width="1.2"/>
<text x="626.67" y="222.90" text-anchor="middle" font-size="11.6" fill="#111" stroke="#111" stroke-width="0.3">15</text>
<line x1="671.40" y1="208.30" x2="671.40" y2="211.30" stroke="#7f7f7f" stroke-width="1.2"/>
<text x="671.40" y="222.90" text-anchor="middle" font-size="11.6" fill="#111" stroke="#111" stroke-width="0.3">20</text>
<line x1="514.86" y1="208.30" x2="514.86" y2="210.30" stroke="#7f7f7f" stroke-width="1.1"/>
<line x1="559.59" y1="208.30" x2="559.59" y2="210.30" stroke="#7f7f7f" stroke-width="1.1"/>
<line x1="604.31" y1="208.30" x2="604.31" y2="210.30" stroke="#7f7f7f" stroke-width="1.1"/>
<line x1="649.04" y1="208.30" x2="649.04" y2="210.30" stroke="#7f7f7f" stroke-width="1.1"/>
<path d="M47.10,241.60H235.90M47.10,433.30H235.90" stroke="#4d4d4d" stroke-width="1.05"/>
<path d="M47.70,241.60V433.30M235.30,241.60V433.30" stroke="#7f7f7f" stroke-width="1.3"/>
<line x1="44.70" y1="433.30" x2="47.70" y2="433.30" stroke="#4d4d4d" stroke-width="1"/>
<text x="42.50" y="437.40" text-anchor="end" font-size="11.6" fill="#111" stroke="#111" stroke-width="0.3">0</text>
<line x1="44.70" y1="369.42" x2="47.70" y2="369.42" stroke="#4d4d4d" stroke-width="1"/>
<text x="42.50" y="373.52" text-anchor="end" font-size="11.6" fill="#111" stroke="#111" stroke-width="0.3">400</text>
<line x1="44.70" y1="305.54" x2="47.70" y2="305.54" stroke="#4d4d4d" stroke-width="1"/>
<text x="42.50" y="309.64" text-anchor="end" font-size="11.6" fill="#111" stroke="#111" stroke-width="0.3">800</text>
<line x1="44.70" y1="241.66" x2="47.70" y2="241.66" stroke="#4d4d4d" stroke-width="1"/>
<text x="42.50" y="245.76" text-anchor="end" font-size="11.6" fill="#111" stroke="#111" stroke-width="0.3">1200</text>
<line x1="45.70" y1="401.36" x2="47.70" y2="401.36" stroke="#4d4d4d" stroke-width="0.9"/>
<line x1="45.70" y1="337.48" x2="47.70" y2="337.48" stroke="#4d4d4d" stroke-width="0.9"/>
<line x1="45.70" y1="273.60" x2="47.70" y2="273.60" stroke="#4d4d4d" stroke-width="0.9"/>
<line x1="56.00" y1="433.30" x2="56.00" y2="436.30" stroke="#7f7f7f" stroke-width="1.2"/>
<text x="56.00" y="447.90" text-anchor="middle" font-size="11.6" fill="#111" stroke="#111" stroke-width="0.3">0</text>
<line x1="137.25" y1="433.30" x2="137.25" y2="436.30" stroke="#7f7f7f" stroke-width="1.2"/>
<text x="137.25" y="447.90" text-anchor="middle" font-size="11.6" fill="#111" stroke="#111" stroke-width="0.3">5</text>
<line x1="218.50" y1="433.30" x2="218.50" y2="436.30" stroke="#7f7f7f" stroke-width="1.2"/>
<text x="218.50" y="447.90" text-anchor="middle" font-size="11.6" fill="#111" stroke="#111" stroke-width="0.3">10</text>
<line x1="96.62" y1="433.30" x2="96.62" y2="435.30" stroke="#7f7f7f" stroke-width="1.1"/>
<line x1="177.88" y1="433.30" x2="177.88" y2="435.30" stroke="#7f7f7f" stroke-width="1.1"/>
<path d="M269.80,245.10H458.60M269.80,436.90H458.60" stroke="#4d4d4d" stroke-width="1.05"/>
<path d="M270.40,245.10V436.90M458.00,245.10V436.90" stroke="#7f7f7f" stroke-width="1.3"/>
<line x1="267.40" y1="436.90" x2="270.40" y2="436.90" stroke="#4d4d4d" stroke-width="1"/>
<text x="265.20" y="441.00" text-anchor="end" font-size="11.6" fill="#111" stroke="#111" stroke-width="0.3">0</text>
<line x1="267.40" y1="340.98" x2="270.40" y2="340.98" stroke="#4d4d4d" stroke-width="1"/>
<text x="265.20" y="345.08" text-anchor="end" font-size="11.6" fill="#111" stroke="#111" stroke-width="0.3">400</text>
<line x1="267.40" y1="245.06" x2="270.40" y2="245.06" stroke="#4d4d4d" stroke-width="1"/>
<text x="265.20" y="249.16" text-anchor="end" font-size="11.6" fill="#111" stroke="#111" stroke-width="0.3">800</text>
<line x1="268.40" y1="388.94" x2="270.40" y2="388.94" stroke="#4d4d4d" stroke-width="0.9"/>
<line x1="268.40" y1="293.02" x2="270.40" y2="293.02" stroke="#4d4d4d" stroke-width="0.9"/>
<line x1="270.40" y1="436.90" x2="270.40" y2="439.90" stroke="#7f7f7f" stroke-width="1.2"/>
<text x="270.40" y="451.50" text-anchor="middle" font-size="11.6" fill="#111" stroke="#111" stroke-width="0.3">0</text>
<line x1="355.55" y1="436.90" x2="355.55" y2="439.90" stroke="#7f7f7f" stroke-width="1.2"/>
<text x="355.55" y="451.50" text-anchor="middle" font-size="11.6" fill="#111" stroke="#111" stroke-width="0.3">5</text>
<line x1="440.70" y1="436.90" x2="440.70" y2="439.90" stroke="#7f7f7f" stroke-width="1.2"/>
<text x="440.70" y="451.50" text-anchor="middle" font-size="11.6" fill="#111" stroke="#111" stroke-width="0.3">10</text>
<line x1="312.97" y1="436.90" x2="312.97" y2="438.90" stroke="#7f7f7f" stroke-width="1.1"/>
<line x1="398.12" y1="436.90" x2="398.12" y2="438.90" stroke="#7f7f7f" stroke-width="1.1"/>
<path d="M491.90,244.40H681.10M491.90,436.20H681.10" stroke="#4d4d4d" stroke-width="1.05"/>
<path d="M492.50,244.40V436.20M680.50,244.40V436.20" stroke="#7f7f7f" stroke-width="1.3"/>
<line x1="489.50" y1="436.20" x2="492.50" y2="436.20" stroke="#4d4d4d" stroke-width="1"/>
<text x="487.30" y="440.30" text-anchor="end" font-size="11.6" fill="#111" stroke="#111" stroke-width="0.3">0</text>
<line x1="489.50" y1="340.28" x2="492.50" y2="340.28" stroke="#4d4d4d" stroke-width="1"/>
<text x="487.30" y="344.38" text-anchor="end" font-size="11.6" fill="#111" stroke="#111" stroke-width="0.3">400</text>
<line x1="489.50" y1="244.36" x2="492.50" y2="244.36" stroke="#4d4d4d" stroke-width="1"/>
<text x="487.30" y="248.46" text-anchor="end" font-size="11.6" fill="#111" stroke="#111" stroke-width="0.3">800</text>
<line x1="490.50" y1="388.24" x2="492.50" y2="388.24" stroke="#4d4d4d" stroke-width="0.9"/>
<line x1="490.50" y1="292.32" x2="492.50" y2="292.32" stroke="#4d4d4d" stroke-width="0.9"/>
<line x1="492.50" y1="436.20" x2="492.50" y2="439.20" stroke="#7f7f7f" stroke-width="1.2"/>
<text x="492.50" y="450.80" text-anchor="middle" font-size="11.6" fill="#111" stroke="#111" stroke-width="0.3">0</text>
<line x1="537.23" y1="436.20" x2="537.23" y2="439.20" stroke="#7f7f7f" stroke-width="1.2"/>
<text x="537.23" y="450.80" text-anchor="middle" font-size="11.6" fill="#111" stroke="#111" stroke-width="0.3">5</text>
<line x1="581.95" y1="436.20" x2="581.95" y2="439.20" stroke="#7f7f7f" stroke-width="1.2"/>
<text x="581.95" y="450.80" text-anchor="middle" font-size="11.6" fill="#111" stroke="#111" stroke-width="0.3">10</text>
<line x1="626.67" y1="436.20" x2="626.67" y2="439.20" stroke="#7f7f7f" stroke-width="1.2"/>
<text x="626.67" y="450.80" text-anchor="middle" font-size="11.6" fill="#111" stroke="#111" stroke-width="0.3">15</text>
<line x1="671.40" y1="436.20" x2="671.40" y2="439.20" stroke="#7f7f7f" stroke-width="1.2"/>
<text x="671.40" y="450.80" text-anchor="middle" font-size="11.6" fill="#111" stroke="#111" stroke-width="0.3">20</text>
<line x1="514.86" y1="436.20" x2="514.86" y2="438.20" stroke="#7f7f7f" stroke-width="1.1"/>
<line x1="559.59" y1="436.20" x2="559.59" y2="438.20" stroke="#7f7f7f" stroke-width="1.1"/>
<line x1="604.31" y1="436.20" x2="604.31" y2="438.20" stroke="#7f7f7f" stroke-width="1.1"/>
<line x1="649.04" y1="436.20" x2="649.04" y2="438.20" stroke="#7f7f7f" stroke-width="1.1"/>
<text x="27.9" y="14" font-size="18" fill="#000" stroke="#000" stroke-width="0.3">a</text>
<text x="249.7" y="14" font-size="18" fill="#000" stroke="#000" stroke-width="0.3">b</text>
<text x="474.2" y="14" font-size="18" fill="#000" stroke="#000" stroke-width="0.3">c</text>
<text x="27.6" y="232.7" font-size="18" fill="#000" stroke="#000" stroke-width="0.3">d</text>
<text x="250.4" y="236" font-size="18" fill="#000" stroke="#000" stroke-width="0.3">e</text>
<text x="472.3" y="235.2" font-size="18" fill="#000" stroke="#000" stroke-width="0.3">f</text>
<text transform="translate(11,112) rotate(-90)" text-anchor="middle" font-size="13.8" fill="#111" stroke="#111" stroke-width="0.3">Longevity (years)</text>
<text transform="translate(11,337.5) rotate(-90)" text-anchor="middle" font-size="13.8" fill="#111" stroke="#111" stroke-width="0.3">Longevity (years)</text>
<text x="141.5" y="466" text-anchor="middle" font-size="13.8" fill="#111" stroke="#111" stroke-width="0.3">Mean growth rate</text>
<text x="363.9" y="465.5" text-anchor="middle" font-size="13.8" fill="#111" stroke="#111" stroke-width="0.3">Juvenile growth rate at 25 years</text>
<text x="585.8" y="465.5" text-anchor="middle" font-size="13.8" fill="#111" stroke="#111" stroke-width="0.3">Juvenile growth rate at 50 years</text>
<g class="bl"><circle cx="144.1" cy="27" r="2.5"/></g>
<g class="rd"><circle cx="144.1" cy="39.9" r="2.5"/></g>
<text x="158.3" y="30.8" font-size="10.5" fill="#111" stroke="#111" stroke-width="0.3">Gymnosperm</text>
<text x="158.3" y="43.8" font-size="10.5" fill="#111" stroke="#111" stroke-width="0.3">Angiosperm</text>
<text y="79.50" font-size="10.2" font-weight="bold" fill="#1f477f" stroke="#1f477f" stroke-width="0.25"><tspan x="124.35">R</tspan><tspan x="131.60" dy="-4.6" font-size="7.2">2</tspan><tspan x="138.70" dy="4.6">=</tspan><tspan x="147.75">0.25</tspan><tspan x="168.45">,</tspan><tspan x="178.75" font-style="italic">p</tspan><tspan x="187.85">&lt;</tspan><tspan x="196.85">0.001</tspan></text>
<text y="94.80" font-size="10.2" font-weight="bold" fill="#c01c20" stroke="#c01c20" stroke-width="0.25"><tspan x="124.35">R</tspan><tspan x="131.60" dy="-4.6" font-size="7.2">2</tspan><tspan x="138.70" dy="4.6">=</tspan><tspan x="147.75">0.25</tspan><tspan x="168.45">,</tspan><tspan x="178.75" font-style="italic">p</tspan><tspan x="187.85">&lt;</tspan><tspan x="196.85">0.001</tspan></text>
<text y="79.40" font-size="10.2" font-weight="bold" fill="#1f477f" stroke="#1f477f" stroke-width="0.25"><tspan x="357.15">R</tspan><tspan x="364.40" dy="-4.6" font-size="7.2">2</tspan><tspan x="371.50" dy="4.6">=</tspan><tspan x="380.55">0.12</tspan><tspan x="401.25">,</tspan><tspan x="411.55" font-style="italic">p</tspan><tspan x="420.65">&lt;</tspan><tspan x="429.65">0.001</tspan></text>
<text y="95.10" font-size="10.2" font-weight="bold" fill="#c01c20" stroke="#c01c20" stroke-width="0.25"><tspan x="357.15">R</tspan><tspan x="364.40" dy="-4.6" font-size="7.2">2</tspan><tspan x="371.50" dy="4.6">=</tspan><tspan x="380.55">0.17</tspan><tspan x="401.25">,</tspan><tspan x="411.55" font-style="italic">p</tspan><tspan x="420.65">&lt;</tspan><tspan x="429.65">0.001</tspan></text>
<text y="79.40" font-size="10.2" font-weight="bold" fill="#1f477f" stroke="#1f477f" stroke-width="0.25"><tspan x="576.15">R</tspan><tspan x="583.40" dy="-4.6" font-size="7.2">2</tspan><tspan x="590.50" dy="4.6">=</tspan><tspan x="599.55">0.20</tspan><tspan x="620.25">,</tspan><tspan x="630.55" font-style="italic">p</tspan><tspan x="639.65">&lt;</tspan><tspan x="648.65">0.001</tspan></text>
<text y="95.00" font-size="10.2" font-weight="bold" fill="#c01c20" stroke="#c01c20" stroke-width="0.25"><tspan x="576.15">R</tspan><tspan x="583.40" dy="-4.6" font-size="7.2">2</tspan><tspan x="590.50" dy="4.6">=</tspan><tspan x="599.55">0.29</tspan><tspan x="620.25">,</tspan><tspan x="630.55" font-style="italic">p</tspan><tspan x="639.65">&lt;</tspan><tspan x="648.65">0.001</tspan></text>
<line x1="146.4" y1="254.20" x2="169.4" y2="254.20" stroke="#7b1416" stroke-width="2.6" stroke-linecap="round"/>
<text x="172.7" y="258.30" font-size="10.7" fill="#111" stroke="#111" stroke-width="0.3">Arid</text>
<line x1="146.4" y1="266.92" x2="169.4" y2="266.92" stroke="#fa0f0b" stroke-width="2.6" stroke-linecap="round"/>
<text x="172.7" y="271.02" font-size="10.7" fill="#111" stroke="#111" stroke-width="0.3">Cold</text>
<line x1="146.4" y1="279.64" x2="169.4" y2="279.64" stroke="#df6b6b" stroke-width="2.6" stroke-linecap="round"/>
<text x="172.7" y="283.74" font-size="10.7" fill="#111" stroke="#111" stroke-width="0.3">Polar</text>
<line x1="146.4" y1="292.36" x2="169.4" y2="292.36" stroke="#e8a95b" stroke-width="2.6" stroke-linecap="round"/>
<text x="172.7" y="296.46" font-size="10.7" fill="#111" stroke="#111" stroke-width="0.3">Temperate</text>
<line x1="146.4" y1="305.08" x2="169.4" y2="305.08" stroke="#f3d5ca" stroke-width="2.6" stroke-linecap="round"/>
<text x="172.7" y="309.18" font-size="10.7" fill="#111" stroke="#111" stroke-width="0.3">Tropical</text>
<text y="327.80" font-size="10.2" font-weight="bold" fill="#7d1a1c" stroke="#7d1a1c" stroke-width="0.25"><tspan x="118.45">R</tspan><tspan x="125.70" dy="-4.6" font-size="7.2">2</tspan><tspan x="132.80" dy="4.6">=</tspan><tspan x="141.85">0.36</tspan><tspan x="162.55">,</tspan><tspan x="172.85" font-style="italic">p</tspan><tspan x="181.95">&lt;</tspan><tspan x="190.95">0.001</tspan></text>
<text y="341.80" font-size="10.2" font-weight="bold" fill="#ff2020" stroke="#ff2020" stroke-width="0.25"><tspan x="118.45">R</tspan><tspan x="125.70" dy="-4.6" font-size="7.2">2</tspan><tspan x="132.80" dy="4.6">=</tspan><tspan x="141.85">0.28</tspan><tspan x="162.55">,</tspan><tspan x="172.85" font-style="italic">p</tspan><tspan x="181.95">&lt;</tspan><tspan x="190.95">0.001</tspan></text>
<text y="369.30" font-size="10.2" font-weight="bold" fill="#e08a2c" stroke="#e08a2c" stroke-width="0.25"><tspan x="118.45">R</tspan><tspan x="125.70" dy="-4.6" font-size="7.2">2</tspan><tspan x="132.80" dy="4.6">=</tspan><tspan x="141.85">0.20</tspan><tspan x="162.55">,</tspan><tspan x="172.85" font-style="italic">p</tspan><tspan x="181.95">&lt;</tspan><tspan x="190.95">0.001</tspan></text>
<text y="383.30" font-size="10.2" font-weight="normal" fill="#ecb2ba" stroke="#ecb2ba" stroke-width="0.4"><tspan x="118.45">R</tspan><tspan x="125.70" dy="-4.6" font-size="7.2">2</tspan><tspan x="132.80" dy="4.6">=</tspan><tspan x="141.85">0.17</tspan><tspan x="162.55">,</tspan><tspan x="172.85" font-style="italic">p</tspan><tspan x="181.95">&lt;</tspan><tspan x="190.95">0.001</tspan></text>
<text y="296.00" font-size="10.2" font-weight="bold" fill="#7d1a1c" stroke="#7d1a1c" stroke-width="0.25"><tspan x="331.35">R</tspan><tspan x="338.60" dy="-4.6" font-size="7.2">2</tspan><tspan x="345.70" dy="4.6">=</tspan><tspan x="354.75">0.07</tspan><tspan x="375.45">,</tspan><tspan x="385.75" font-style="italic">p</tspan><tspan x="394.85">&lt;</tspan><tspan x="403.85">0.001</tspan></text>
<text y="309.60" font-size="10.2" font-weight="bold" fill="#ff2020" stroke="#ff2020" stroke-width="0.25"><tspan x="331.35">R</tspan><tspan x="338.60" dy="-4.6" font-size="7.2">2</tspan><tspan x="345.70" dy="4.6">=</tspan><tspan x="354.75">0.13</tspan><tspan x="375.45">,</tspan><tspan x="385.75" font-style="italic">p</tspan><tspan x="394.85">&lt;</tspan><tspan x="403.85">0.001</tspan></text>
<text y="323.50" font-size="10.2" font-weight="normal" fill="#e06a6a" stroke="#e06a6a" stroke-width="0.4"><tspan x="331.35">R</tspan><tspan x="338.60" dy="-4.6" font-size="7.2">2</tspan><tspan x="345.70" dy="4.6">=</tspan><tspan x="354.75">0.09</tspan><tspan x="375.45">,</tspan><tspan x="385.75" font-style="italic">p</tspan><tspan x="394.85">&lt;</tspan><tspan x="403.85">0.001</tspan></text>
<text y="351.60" font-size="10.2" font-weight="normal" fill="#ecb2ba" stroke="#ecb2ba" stroke-width="0.4"><tspan x="331.35">R</tspan><tspan x="338.60" dy="-4.6" font-size="7.2">2</tspan><tspan x="345.70" dy="4.6">=</tspan><tspan x="354.75">0.17</tspan><tspan x="375.45">,</tspan><tspan x="385.75" font-style="italic">p</tspan><tspan x="394.85">&lt;</tspan><tspan x="403.85">0.001</tspan></text>
<text y="301.30" font-size="10.2" font-weight="bold" fill="#7d1a1c" stroke="#7d1a1c" stroke-width="0.25"><tspan x="556.35">R</tspan><tspan x="563.60" dy="-4.6" font-size="7.2">2</tspan><tspan x="570.70" dy="4.6">=</tspan><tspan x="579.75">0.13</tspan><tspan x="600.45">,</tspan><tspan x="610.75" font-style="italic">p</tspan><tspan x="619.85">&lt;</tspan><tspan x="628.85">0.001</tspan></text>
<text y="314.80" font-size="10.2" font-weight="bold" fill="#ff2020" stroke="#ff2020" stroke-width="0.25"><tspan x="556.35">R</tspan><tspan x="563.60" dy="-4.6" font-size="7.2">2</tspan><tspan x="570.70" dy="4.6">=</tspan><tspan x="579.75">0.23</tspan><tspan x="600.45">,</tspan><tspan x="610.75" font-style="italic">p</tspan><tspan x="619.85">&lt;</tspan><tspan x="628.85">0.001</tspan></text>
<text y="328.80" font-size="10.2" font-weight="normal" fill="#e06a6a" stroke="#e06a6a" stroke-width="0.4"><tspan x="556.35">R</tspan><tspan x="563.60" dy="-4.6" font-size="7.2">2</tspan><tspan x="570.70" dy="4.6">=</tspan><tspan x="579.75">0.20</tspan><tspan x="600.45">,</tspan><tspan x="610.75" font-style="italic">p</tspan><tspan x="619.85">&lt;</tspan><tspan x="628.85">0.001</tspan></text>
<text y="342.30" font-size="10.2" font-weight="bold" fill="#e08a2c" stroke="#e08a2c" stroke-width="0.25"><tspan x="556.35">R</tspan><tspan x="563.60" dy="-4.6" font-size="7.2">2</tspan><tspan x="570.70" dy="4.6">=</tspan><tspan x="579.75">0.16</tspan><tspan x="600.45">,</tspan><tspan x="610.75" font-style="italic">p</tspan><tspan x="619.85">&lt;</tspan><tspan x="628.85">0.001</tspan></text>
<text y="355.90" font-size="10.2" font-weight="normal" fill="#ecb2ba" stroke="#ecb2ba" stroke-width="0.4"><tspan x="556.35">R</tspan><tspan x="563.60" dy="-4.6" font-size="7.2">2</tspan><tspan x="570.70" dy="4.6">=</tspan><tspan x="579.75">0.32</tspan><tspan x="600.45">,</tspan><tspan x="610.75" font-style="italic">p</tspan><tspan x="619.85">&lt;</tspan><tspan x="628.85">0.001</tspan></text>
<path d="M57.7,255.9 57.8,257.1 57.8,258.3 57.9,259.5 57.9,260.8 58.0,262.0 58.0,263.2 58.0,264.4 58.1,265.6 58.1,266.8 58.2,268.1 58.2,269.3 58.3,270.5 58.3,271.7 58.4,272.9 58.4,274.1 58.5,275.4 58.5,276.6 58.6,277.8 58.6,279.0 58.7,280.2 58.7,281.4 58.8,282.7 58.8,283.9 58.9,285.1 58.9,286.3 59.0,287.5 59.1,288.7 59.1,290.0 59.2,291.2 59.2,292.4 59.3,293.6 59.3,294.8 59.4,296.0 59.5,297.2 59.5,298.5 59.6,299.7 59.6,300.9 59.7,302.1 59.8,303.3 59.8,304.5 59.9,305.8 60.0,307.0 60.0,308.2 60.1,309.4 60.2,310.6 60.3,311.8 60.3,313.0 60.4,314.3 60.5,315.5 60.5,316.7 60.6,317.9 60.7,319.1 60.8,320.3 60.9,321.5 60.9,322.8 61.0,324.0 61.1,325.2 61.2,326.4 61.3,327.6 61.4,328.8 61.5,330.0 61.6,331.3 61.7,332.5 61.8,333.7 61.8,334.9 62.0,336.1 62.1,337.3 62.2,338.5 62.3,339.8 62.4,341.0 62.5,342.2 62.6,343.4 62.7,344.6 62.8,345.8 63.0,347.0 63.1,348.2 63.2,349.4 63.4,350.7 63.5,351.9 63.6,353.1 63.8,354.3 63.9,355.5 64.1,356.7 64.2,357.9 64.4,359.1 64.6,360.3 64.8,361.5 64.9,362.7 65.1,363.9 65.3,365.1 65.5,366.3 65.8,367.5 66.0,368.7 66.2,369.9 66.5,371.1 66.7,372.3 67.0,373.5 67.3,374.7 67.6,375.8 67.9,377.0 68.3,378.2 68.6,379.3 69.0,380.5 69.5,381.6 69.9,382.7 70.5,383.8 71.0,384.9 71.6,386.0 72.3,387.0 73.0,388.0 73.9,388.9 74.8,389.7 75.7,390.4 76.8,391.1 77.8,391.6 79.0,392.1 80.1,392.4 81.3,392.7 82.5,392.9 83.7,393.1 84.9,393.3 86.1,393.4 87.4,393.5 88.6,393.5 89.8,393.6 91.0,393.6 92.2,393.7 93.4,393.7 94.6,393.7 95.9,393.7 97.1,393.7 98.3,393.7" fill="none" stroke="#7b1416" stroke-width="2.3" stroke-linecap="round" stroke-linejoin="round"/>
<path d="M56.0,331.9 56.2,333.1 56.3,334.3 56.5,335.5 56.7,336.7 56.8,337.9 57.0,339.1 57.2,340.3 57.4,341.5 57.6,342.7 57.7,343.9 57.9,345.1 58.1,346.3 58.3,347.5 58.5,348.7 58.7,349.8 58.9,351.0 59.1,352.2 59.3,353.4 59.6,354.6 59.8,355.8 60.0,357.0 60.3,358.2 60.5,359.4 60.7,360.5 61.0,361.7 61.2,362.9 61.5,364.1 61.8,365.3 62.0,366.4 62.3,367.6 62.6,368.8 62.9,370.0 63.2,371.1 63.5,372.3 63.8,373.5 64.2,374.6 64.5,375.8 64.9,377.0 65.2,378.1 65.6,379.3 66.0,380.4 66.4,381.6 66.8,382.7 67.2,383.8 67.6,385.0 68.1,386.1 68.6,387.2 69.1,388.3 69.6,389.4 70.1,390.5 70.7,391.5 71.3,392.6 71.9,393.7 72.5,394.7 73.2,395.7 73.8,396.7 74.6,397.7 75.3,398.6 76.1,399.5 76.9,400.4 77.8,401.3 78.7,402.1 79.6,402.9 80.6,403.6 81.6,404.3 82.6,405.0 83.6,405.6 84.7,406.1 85.8,406.6 86.9,407.1 88.0,407.5 89.2,407.9 90.3,408.3 91.5,408.6 92.7,408.9 93.8,409.2 95.0,409.4 96.2,409.6 97.4,409.8 98.6,410.0 99.8,410.1 101.0,410.3 102.2,410.4 103.4,410.5 104.6,410.6 105.8,410.7 107.0,410.7 108.3,410.8 109.5,410.9 110.7,410.9 111.9,411.0 113.1,411.0 114.3,411.1 115.5,411.1 116.7,411.1 117.9,411.2 119.1,411.2 120.3,411.2 121.6,411.2 122.8,411.2 124.0,411.3 125.2,411.3 126.4,411.3 127.6,411.3 128.8,411.3 130.0,411.3 131.2,411.3 132.4,411.3 133.7,411.3 134.9,411.3 136.1,411.3 137.3,411.3 138.5,411.4 139.7,411.4 140.9,411.4 142.1,411.4 143.3,411.4 144.5,411.4 145.8,411.4 147.0,411.4 148.2,411.4 149.4,411.4 150.6,411.4 151.8,411.4 153.0,411.4 154.2,411.4 155.4,411.4 156.6,411.4 157.8,411.4 159.1,411.4 160.3,411.4 161.5,411.4 162.7,411.4 163.9,411.4 165.1,411.4 166.3,411.4 167.5,411.4 168.7,411.4 169.9,411.4 171.2,411.4 172.4,411.4 173.6,411.4 174.8,411.4 176.0,411.4 177.2,411.4 178.4,411.4 179.6,411.4 180.8,411.4 182.0,411.4 183.3,411.4 184.5,411.4 185.7,411.4 186.9,411.4 188.1,411.4 189.3,411.4 190.5,411.4 191.7,411.4 192.9,411.4 194.1,411.4 195.4,411.4 196.6,411.4 197.8,411.4 199.0,411.4 200.2,411.4 201.4,411.4" fill="none" stroke="#fa0f0b" stroke-width="2.3" stroke-linecap="round" stroke-linejoin="round"/>
<path d="M56.4,321.8 56.6,323.0 56.7,324.2 56.9,325.4 57.0,326.6 57.2,327.8 57.3,329.0 57.5,330.2 57.7,331.4 57.8,332.6 58.0,333.8 58.2,335.0 58.4,336.2 58.5,337.4 58.7,338.6 58.9,339.8 59.1,341.0 59.3,342.2 59.5,343.4 59.7,344.6 59.9,345.8 60.1,347.0 60.4,348.2 60.6,349.3 60.8,350.5 61.0,351.7 61.3,352.9 61.5,354.1 61.8,355.3 62.0,356.5 62.3,357.6 62.6,358.8 62.9,360.0 63.1,361.2 63.4,362.4 63.7,363.5 64.0,364.7 64.3,365.9 64.7,367.0 65.0,368.2 65.3,369.4 65.7,370.5 66.0,371.7 66.4,372.8 66.8,374.0 67.2,375.1 67.6,376.3 68.0,377.4 68.4,378.6 68.8,379.7 69.3,380.8 69.8,381.9 70.2,383.0 70.7,384.2 71.2,385.3 71.8,386.3 72.3,387.4 72.8,388.5 73.4,389.6 74.0,390.6 74.6,391.7 75.3,392.7 75.9,393.7 76.6,394.7 77.3,395.7 78.1,396.7 78.8,397.6 79.6,398.5 80.4,399.5 81.2,400.3 82.1,401.2 83.0,402.0 83.9,402.8 84.8,403.6 85.7,404.3 86.7,405.1 87.7,405.7 88.8,406.4 89.8,407.0 90.9,407.6 91.9,408.1 93.0,408.6 94.2,409.1 95.3,409.6 96.4,410.0 97.6,410.4 98.7,410.8 99.9,411.1 101.0,411.4 102.2,411.7 103.4,412.0 104.6,412.2 105.8,412.4 107.0,412.7 108.2,412.9 109.4,413.0 110.6,413.2 111.8,413.4 113.0,413.5 114.2,413.6 115.4,413.7 116.6,413.9 117.8,414.0 119.0,414.0 120.2,414.1 121.4,414.2 122.6,414.3 123.8,414.3 125.0,414.4 126.3,414.5 127.5,414.5 128.7,414.6 129.9,414.6 131.1,414.6 132.3,414.7 133.5,414.7 134.7,414.8 135.9,414.8 137.2,414.8 138.4,414.8 139.6,414.9 140.8,414.9 142.0,414.9 143.2,414.9 144.4,414.9 145.6,414.9 146.8,415.0 148.1,415.0 149.3,415.0 150.5,415.0 151.7,415.0 152.9,415.0 154.1,415.0 155.3,415.0 156.5,415.0 157.7,415.0 159.0,415.0 160.2,415.0 161.4,415.0 162.6,415.1 163.8,415.1 165.0,415.1 166.2,415.1 167.4,415.1 168.6,415.1 169.9,415.1 171.1,415.1 172.3,415.1 173.5,415.1 174.7,415.1 175.9,415.1 177.1,415.1 178.3,415.1 179.5,415.1 180.8,415.1 182.0,415.1 183.2,415.1 184.4,415.1 185.6,415.1 186.8,415.1 188.0,415.1 189.2,415.1 190.5,415.1 191.7,415.1 192.9,415.1 194.1,415.1 195.3,415.1 196.5,415.1 197.7,415.1 198.9,415.1 200.1,415.1 201.4,415.1 202.6,415.1 203.8,415.1 205.0,415.1 206.2,415.1 207.4,415.1 208.6,415.1 209.8,415.1 211.0,415.1 212.3,415.1 213.5,415.1 214.7,415.1 215.9,415.1 217.1,415.1" fill="none" stroke="#e8a95b" stroke-width="2.3" stroke-linecap="round" stroke-linejoin="round"/>
<path d="M66.9,390.7 67.5,391.8 68.1,392.8 68.7,393.9 69.4,394.9 70.1,395.9 70.9,396.9 71.7,397.8 72.5,398.8 73.3,399.6 74.2,400.5 75.1,401.3 76.1,402.1 77.1,402.9 78.1,403.6 79.1,404.2 80.1,404.9 81.2,405.5 82.3,406.0 83.4,406.5 84.6,407.0 85.7,407.5 86.9,407.9 88.0,408.3 89.2,408.7 90.4,409.0 91.6,409.3 92.8,409.6 94.0,409.9 95.2,410.1 96.4,410.4 97.6,410.6 98.8,410.8 100.0,411.0 101.2,411.1 102.4,411.3 103.7,411.5 104.9,411.6 106.1,411.7 107.3,411.8 108.6,412.0 109.8,412.1 111.0,412.1 112.2,412.2 113.5,412.3 114.7,412.4 115.9,412.5 117.1,412.5 118.4,412.6 119.6,412.6" fill="none" stroke="#f3d5ca" stroke-width="2.3" stroke-linecap="round" stroke-linejoin="round"/>
<path d="M280.8,278.1 281.0,279.3 281.2,280.5 281.5,281.7 281.7,282.8 281.9,284.0 282.2,285.2 282.4,286.4 282.7,287.6 282.9,288.8 283.2,289.9 283.5,291.1 283.7,292.3 284.0,293.5 284.3,294.7 284.6,295.8 284.8,297.0 285.1,298.2 285.4,299.4 285.7,300.5 286.0,301.7 286.3,302.9 286.6,304.0 287.0,305.2 287.3,306.4 287.6,307.5 288.0,308.7 288.3,309.8 288.7,311.0 289.0,312.1 289.4,313.3 289.8,314.4 290.2,315.6 290.6,316.7 291.0,317.9 291.4,319.0 291.8,320.2 292.2,321.3 292.7,322.4 293.1,323.5 293.6,324.6 294.0,325.8 294.5,326.9 295.0,328.0 295.5,329.1 296.1,330.2 296.6,331.2 297.1,332.3 297.7,333.4 298.3,334.4 298.9,335.5 299.5,336.5 300.2,337.5 300.8,338.6 301.5,339.6 302.2,340.6 302.9,341.5 303.6,342.5 304.4,343.4 305.2,344.4 306.0,345.3 306.8,346.2 307.6,347.0 308.5,347.9 309.4,348.7 310.3,349.5 311.2,350.2 312.2,351.0 313.2,351.7 314.1,352.4 315.2,353.0 316.2,353.7 317.2,354.3 318.3,354.8 319.4,355.4 320.5,355.9 321.6,356.4 322.7,356.8 323.9,357.2 325.0,357.6 326.1,358.0 327.3,358.4 328.5,358.7 329.6,359.0 330.8,359.3 332.0,359.6 333.2,359.8 334.4,360.1 335.5,360.3 336.7,360.5 337.9,360.7 339.1,360.8 340.3,361.0 341.5,361.2 342.7,361.3 343.9,361.4 345.1,361.6 346.3,361.7 347.5,361.8 348.7,361.9 349.9,362.0 351.1,362.0 352.4,362.1 353.6,362.2 354.8,362.3 356.0,362.3 357.2,362.4 358.4,362.4 359.6,362.5 360.8,362.5 362.0,362.6 363.2,362.6 364.4,362.7 365.6,362.7 366.8,362.7 368.1,362.7 369.3,362.8 370.5,362.8 371.7,362.8 372.9,362.8 374.1,362.9 375.3,362.9 376.5,362.9 377.7,362.9 378.9,362.9 380.1,362.9 381.3,363.0 382.6,363.0 383.8,363.0 385.0,363.0 386.2,363.0 387.4,363.0 388.6,363.0 389.8,363.0 391.0,363.0 392.2,363.0 393.4,363.0 394.6,363.1 395.9,363.1 397.1,363.1 398.3,363.1 399.5,363.1 400.7,363.1 401.9,363.1 403.1,363.1 404.3,363.1 405.5,363.1 406.7,363.1 407.9,363.1 409.2,363.1 410.4,363.1 411.6,363.1 412.8,363.1 414.0,363.1 415.2,363.1 416.4,363.1 417.6,363.1 418.8,363.1 420.0,363.1 421.2,363.1 422.4,363.1 423.7,363.1 424.9,363.1 426.1,363.1 427.3,363.1 428.5,363.1 429.7,363.1" fill="none" stroke="#7b1416" stroke-width="2.3" stroke-linecap="round" stroke-linejoin="round"/>
<path d="M278.7,326.0 279.2,327.1 279.7,328.2 280.2,329.3 280.7,330.4 281.3,331.5 281.8,332.5 282.4,333.6 282.9,334.7 283.5,335.7 284.1,336.8 284.6,337.9 285.2,338.9 285.8,340.0 286.4,341.0 287.0,342.1 287.7,343.1 288.3,344.1 288.9,345.2 289.6,346.2 290.2,347.2 290.9,348.2 291.6,349.2 292.2,350.2 292.9,351.2 293.6,352.2 294.4,353.2 295.1,354.1 295.8,355.1 296.6,356.1 297.3,357.0 298.1,357.9 298.8,358.9 299.6,359.8 300.4,360.7 301.2,361.6 302.0,362.5 302.9,363.4 303.7,364.3 304.6,365.1 305.4,366.0 306.3,366.8 307.2,367.6 308.1,368.4 309.0,369.3 309.9,370.0 310.8,370.8 311.7,371.6 312.7,372.3 313.6,373.1 314.6,373.8 315.6,374.5 316.6,375.2 317.5,375.9 318.6,376.6 319.6,377.2 320.6,377.9 321.6,378.5 322.7,379.1 323.7,379.7 324.8,380.3 325.8,380.9 326.9,381.5 328.0,382.0 329.1,382.5 330.2,383.1 331.3,383.6 332.4,384.1 333.5,384.5 334.6,385.0 335.7,385.5 336.8,385.9 338.0,386.3 339.1,386.7 340.2,387.1 341.4,387.5 342.5,387.9 343.7,388.3 344.8,388.6 346.0,389.0 347.2,389.3 348.3,389.6 349.5,389.9 350.7,390.2 351.8,390.5 353.0,390.8 354.2,391.1 355.4,391.4 356.6,391.6 357.7,391.9 358.9,392.1 360.1,392.3 361.3,392.6 362.5,392.8 363.7,393.0 364.9,393.2 366.1,393.4 367.3,393.6 368.4,393.7 369.6,393.9 370.8,394.1 372.0,394.2 373.2,394.4 374.4,394.6 375.6,394.7 376.8,394.8 378.0,395.0 379.2,395.1 380.4,395.2 381.6,395.4 382.8,395.5 384.1,395.6 385.3,395.7 386.5,395.8 387.7,395.9 388.9,396.0 390.1,396.1 391.3,396.2 392.5,396.3 393.7,396.4 394.9,396.5 396.1,396.6 397.3,396.6 398.5,396.7 399.7,396.8 400.9,396.8 402.1,396.9 403.3,397.0 404.6,397.0 405.8,397.1 407.0,397.2 408.2,397.2 409.4,397.3 410.6,397.3 411.8,397.4 413.0,397.4 414.2,397.5 415.4,397.5 416.6,397.6 417.8,397.6 419.0,397.6 420.3,397.7 421.5,397.7 422.7,397.8 423.9,397.8 425.1,397.8 426.3,397.9 427.5,397.9 428.7,397.9 429.9,397.9 431.1,398.0 432.3,398.0 433.5,398.0 434.8,398.1 436.0,398.1 437.2,398.1 438.4,398.1 439.6,398.2 440.8,398.2" fill="none" stroke="#fa0f0b" stroke-width="2.3" stroke-linecap="round" stroke-linejoin="round"/>
<path d="M278.7,303.6 279.1,304.7 279.5,305.9 280.0,307.0 280.4,308.1 280.8,309.3 281.3,310.4 281.7,311.5 282.2,312.7 282.7,313.8 283.1,314.9 283.6,316.0 284.1,317.1 284.6,318.3 285.0,319.4 285.5,320.5 286.0,321.6 286.5,322.7 287.0,323.8 287.6,324.9 288.1,326.0 288.6,327.1 289.1,328.2 289.7,329.3 290.2,330.4 290.7,331.5 291.3,332.5 291.9,333.6 292.4,334.7 293.0,335.8 293.6,336.8 294.2,337.9 294.8,339.0 295.4,340.0 296.0,341.1 296.6,342.1 297.2,343.2 297.8,344.2 298.5,345.2 299.1,346.3 299.8,347.3 300.4,348.3 301.1,349.3 301.7,350.3 302.4,351.3 303.1,352.3 303.8,353.3 304.5,354.3 305.2,355.3 306.0,356.3 306.7,357.3 307.4,358.2 308.2,359.2 308.9,360.1 309.7,361.1 310.5,362.0 311.3,362.9 312.1,363.8 312.9,364.8 313.7,365.7 314.5,366.6 315.3,367.4 316.2,368.3 317.0,369.2 317.9,370.0 318.8,370.9 319.6,371.7 320.5,372.6 321.4,373.4 322.3,374.2 323.3,375.0 324.2,375.8 325.1,376.5 326.1,377.3 327.0,378.1 328.0,378.8 328.9,379.5 329.9,380.3 330.9,381.0 331.9,381.7 332.9,382.3 333.9,383.0 334.9,383.7 336.0,384.3 337.0,385.0 338.1,385.6 339.1,386.2 340.2,386.8 341.2,387.4 342.3,388.0 343.4,388.5 344.5,389.1 345.5,389.6 346.6,390.1 347.7,390.6 348.8,391.1 350.0,391.6 351.1,392.1 352.2,392.6 353.3,393.0 354.5,393.5 355.6,393.9 356.7,394.3 357.9,394.8 359.0,395.2 360.2,395.6 361.3,395.9 362.5,396.3 363.6,396.7 364.8,397.0 366.0,397.4 367.1,397.7 368.3,398.0 369.5,398.3 370.7,398.6 371.8,398.9 373.0,399.2 374.2,399.5 375.4,399.8 376.6,400.1 377.8,400.3 378.9,400.6 380.1,400.8 381.3,401.0 382.5,401.3 383.7,401.5 384.9,401.7 386.1,401.9 387.3,402.1" fill="none" stroke="#df6b6b" stroke-width="2.3" stroke-linecap="round" stroke-linejoin="round"/>
<path d="M282.0,371.1 282.6,372.1 283.3,373.2 283.9,374.2 284.6,375.2 285.3,376.2 286.0,377.2 286.8,378.2 287.5,379.2 288.3,380.1 289.1,381.1 289.9,382.0 290.7,382.9 291.6,383.8 292.4,384.6 293.3,385.5 294.2,386.3 295.1,387.2 296.1,388.0 297.0,388.7 298.0,389.5 298.9,390.2 299.9,390.9 301.0,391.6 302.0,392.3 303.0,392.9 304.1,393.5 305.2,394.1 306.3,394.7 307.4,395.3 308.5,395.8 309.6,396.3 310.7,396.8 311.8,397.2 313.0,397.7 314.1,398.1 315.3,398.5 316.5,398.8 317.6,399.2 318.8,399.5 320.0,399.9 321.2,400.2 322.4,400.5 323.6,400.7 324.8,401.0 326.0,401.2 327.2,401.5 328.4,401.7 329.6,401.9 330.8,402.1 332.0,402.3 333.2,402.4 334.5,402.6 335.7,402.8 336.9,402.9 338.1,403.1 339.3,403.2 340.5,403.3 341.8,403.4 343.0,403.5 344.2,403.6 345.4,403.7 346.6,403.8 347.9,403.9 349.1,404.0 350.3,404.1 351.5,404.2 352.8,404.2 354.0,404.3 355.2,404.3 356.4,404.4 357.7,404.5 358.9,404.5 360.1,404.6 361.3,404.6 362.6,404.7 363.8,404.7 365.0,404.7 366.2,404.8 367.5,404.8 368.7,404.8 369.9,404.9 371.1,404.9 372.4,404.9 373.6,404.9 374.8,405.0 376.0,405.0 377.3,405.0 378.5,405.0" fill="none" stroke="#f3d5ca" stroke-width="2.3" stroke-linecap="round" stroke-linejoin="round"/>
<path d="M498.6,278.1 498.8,279.3 499.0,280.5 499.2,281.7 499.5,282.9 499.7,284.0 499.9,285.2 500.1,286.4 500.4,287.6 500.6,288.8 500.9,290.0 501.1,291.2 501.3,292.3 501.6,293.5 501.8,294.7 502.1,295.9 502.3,297.1 502.6,298.2 502.9,299.4 503.1,300.6 503.4,301.8 503.7,303.0 504.0,304.1 504.2,305.3 504.5,306.5 504.8,307.7 505.1,308.8 505.4,310.0 505.7,311.2 506.0,312.3 506.3,313.5 506.7,314.7 507.0,315.8 507.3,317.0 507.6,318.2 508.0,319.3 508.3,320.5 508.7,321.6 509.0,322.8 509.4,323.9 509.8,325.1 510.2,326.2 510.5,327.4 510.9,328.5 511.3,329.7 511.7,330.8 512.1,331.9 512.6,333.1 513.0,334.2 513.4,335.3 513.9,336.4 514.3,337.6 514.8,338.7 515.3,339.8 515.8,340.9 516.3,342.0 516.8,343.1 517.3,344.2 517.9,345.3 518.4,346.3 519.0,347.4 519.5,348.5 520.1,349.5 520.7,350.6 521.3,351.6 522.0,352.6 522.6,353.7 523.3,354.7 524.0,355.7 524.6,356.7 525.4,357.6 526.1,358.6 526.8,359.5 527.6,360.5 528.4,361.4 529.2,362.3 530.0,363.2 530.9,364.0 531.7,364.9 532.6,365.7 533.5,366.5 534.4,367.3 535.4,368.1 536.3,368.8 537.3,369.5 538.3,370.2 539.3,370.8 540.4,371.5 541.4,372.1 542.5,372.7 543.5,373.2 544.6,373.8 545.7,374.3 546.8,374.8 547.9,375.2 549.0,375.7 550.2,376.1 551.3,376.5 552.5,376.9 553.6,377.2 554.8,377.6 556.0,377.9 557.1,378.2 558.3,378.5 559.5,378.7 560.7,379.0 561.8,379.2 563.0,379.4 564.2,379.6 565.4,379.8 566.6,380.0 567.8,380.2 569.0,380.4 570.2,380.5 571.4,380.7 572.6,380.8 573.8,380.9 575.0,381.0 576.2,381.1 577.4,381.2 578.6,381.3 579.8,381.4 581.0,381.5 582.2,381.6 583.4,381.7 584.6,381.7 585.9,381.8 587.1,381.9 588.3,381.9 589.5,382.0 590.7,382.0 591.9,382.1 593.1,382.1 594.3,382.2 595.5,382.2 596.7,382.3 597.9,382.3 599.1,382.3 600.3,382.4 601.6,382.4 602.8,382.4 604.0,382.4 605.2,382.5 606.4,382.5 607.6,382.5 608.8,382.5" fill="none" stroke="#7b1416" stroke-width="2.3" stroke-linecap="round" stroke-linejoin="round"/>
<path d="M497.2,313.5 497.3,314.7 497.5,315.9 497.6,317.1 497.8,318.3 498.0,319.5 498.2,320.7 498.4,321.9 498.6,323.1 498.9,324.3 499.2,325.4 499.5,326.6 499.8,327.8 500.1,328.9 500.4,330.1 500.8,331.3 501.2,332.4 501.5,333.6 501.9,334.7 502.3,335.8 502.7,337.0 503.2,338.1 503.6,339.2 504.0,340.4 504.5,341.5 504.9,342.6 505.4,343.7 505.8,344.9 506.3,346.0 506.8,347.1 507.3,348.2 507.8,349.3 508.3,350.4 508.8,351.5 509.4,352.6 509.9,353.6 510.5,354.7 511.0,355.8 511.6,356.9 512.2,357.9 512.8,359.0 513.4,360.0 514.0,361.0 514.7,362.1 515.3,363.1 516.0,364.1 516.7,365.1 517.3,366.1 518.1,367.1 518.8,368.0 519.5,369.0 520.3,370.0 521.0,370.9 521.8,371.8 522.6,372.7 523.4,373.6 524.3,374.5 525.1,375.3 526.0,376.2 526.9,377.0 527.8,377.8 528.7,378.6 529.6,379.4 530.6,380.1 531.5,380.9 532.5,381.6 533.5,382.3 534.5,383.0 535.5,383.6 536.6,384.2 537.6,384.8 538.7,385.4 539.7,386.0 540.8,386.5 541.9,387.1 543.0,387.6 544.1,388.0 545.2,388.5 546.4,388.9 547.5,389.4 548.6,389.8 549.8,390.2 550.9,390.5 552.1,390.9 553.3,391.2 554.4,391.5 555.6,391.8 556.8,392.1 557.9,392.4 559.1,392.7 560.3,392.9 561.5,393.1 562.7,393.4 563.9,393.6 565.1,393.8 566.3,394.0 567.5,394.2 568.7,394.3 569.9,394.5 571.1,394.7 572.3,394.8 573.5,394.9 574.7,395.1 575.9,395.2 577.1,395.3 578.3,395.4 579.5,395.5 580.7,395.6 581.9,395.7 583.1,395.8 584.3,395.9 585.5,396.0 586.7,396.1 587.9,396.1 589.1,396.2 590.3,396.3 591.5,396.3 592.8,396.4 594.0,396.5 595.2,396.5 596.4,396.6 597.6,396.6 598.8,396.7 600.0,396.7 601.2,396.7 602.4,396.8 603.6,396.8 604.8,396.8 606.1,396.9 607.3,396.9 608.5,396.9 609.7,397.0 610.9,397.0 612.1,397.0 613.3,397.0 614.5,397.1 615.7,397.1 616.9,397.1 618.2,397.1 619.4,397.1 620.6,397.2 621.8,397.2 623.0,397.2 624.2,397.2 625.4,397.2 626.6,397.2 627.8,397.2 629.0,397.3 630.3,397.3 631.5,397.3 632.7,397.3 633.9,397.3 635.1,397.3 636.3,397.3 637.5,397.3 638.7,397.3 639.9,397.3 641.1,397.3 642.4,397.3 643.6,397.3 644.8,397.4 646.0,397.4 647.2,397.4 648.4,397.4 649.6,397.4 650.8,397.4 652.0,397.4 653.2,397.4 654.5,397.4 655.7,397.4 656.9,397.4 658.1,397.4 659.3,397.4 660.5,397.4 661.7,397.4 662.9,397.4 664.1,397.4 665.3,397.4 666.6,397.4 667.8,397.4 669.0,397.4 670.2,397.4 671.4,397.4 672.6,397.4" fill="none" stroke="#fa0f0b" stroke-width="2.3" stroke-linecap="round" stroke-linejoin="round"/>
<path d="M497.7,290.0 497.9,291.2 498.1,292.4 498.3,293.6 498.5,294.8 498.7,296.0 498.9,297.2 499.1,298.4 499.3,299.6 499.6,300.8 499.8,301.9 500.0,303.1 500.2,304.3 500.5,305.5 500.7,306.7 500.9,307.9 501.2,309.1 501.4,310.3 501.7,311.5 501.9,312.6 502.2,313.8 502.5,315.0 502.7,316.2 503.0,317.4 503.3,318.6 503.6,319.7 503.8,320.9 504.1,322.1 504.4,323.3 504.7,324.5 505.0,325.6 505.4,326.8 505.7,328.0 506.0,329.1 506.3,330.3 506.7,331.5 507.0,332.6 507.3,333.8 507.7,335.0 508.1,336.1 508.4,337.3 508.8,338.4 509.2,339.6 509.6,340.7 510.0,341.9 510.4,343.0 510.9,344.1 511.3,345.3 511.7,346.4 512.2,347.5 512.7,348.6 513.1,349.8 513.6,350.9 514.1,352.0 514.7,353.1 515.2,354.2 515.7,355.2 516.3,356.3 516.9,357.4 517.5,358.4 518.1,359.5 518.7,360.5 519.4,361.5 520.0,362.6 520.7,363.6 521.4,364.5 522.2,365.5 522.9,366.5 523.7,367.4 524.5,368.3 525.3,369.2 526.2,370.1 527.0,370.9 527.9,371.8 528.8,372.6 529.8,373.3 530.7,374.1 531.7,374.8 532.7,375.5 533.7,376.1 534.7,376.8 535.8,377.4 536.9,377.9 538.0,378.5 539.1,379.0 540.2,379.5 541.3,379.9 542.4,380.4 543.6,380.8 544.7,381.1 545.9,381.5 547.1,381.8 548.2,382.1 549.4,382.4 550.6,382.7 551.8,382.9 553.0,383.2 554.2,383.4 555.4,383.6 556.6,383.8 557.8,383.9 559.0,384.1 560.2,384.3 561.4,384.4 562.6,384.5 563.8,384.6 565.0,384.7 566.2,384.9" fill="none" stroke="#df6b6b" stroke-width="2.3" stroke-linecap="round" stroke-linejoin="round"/>
<path d="M497.8,307.6 498.0,308.8 498.2,310.0 498.4,311.2 498.6,312.4 498.8,313.6 499.0,314.7 499.3,315.9 499.5,317.1 499.7,318.3 500.0,319.5 500.3,320.7 500.5,321.8 500.8,323.0 501.1,324.2 501.4,325.4 501.7,326.5 501.9,327.7 502.2,328.9 502.6,330.0 502.9,331.2 503.2,332.4 503.5,333.5 503.8,334.7 504.2,335.9 504.5,337.0 504.9,338.2 505.2,339.3 505.6,340.5 506.0,341.6 506.3,342.8 506.7,343.9 507.1,345.1 507.5,346.2 507.9,347.4 508.3,348.5 508.8,349.6 509.2,350.8 509.6,351.9 510.1,353.0 510.5,354.1 511.0,355.2 511.5,356.3 512.0,357.4 512.5,358.5 513.0,359.6 513.5,360.7 514.1,361.8 514.6,362.9 515.2,363.9 515.8,365.0 516.4,366.0 517.0,367.1 517.6,368.1 518.3,369.1 519.0,370.1 519.6,371.1 520.3,372.1 521.1,373.1 521.8,374.0 522.5,375.0 523.3,375.9 524.1,376.8 524.9,377.7 525.8,378.6 526.6,379.4 527.5,380.3 528.4,381.1 529.3,381.9 530.3,382.6 531.2,383.4 532.2,384.1 533.2,384.8 534.2,385.4 535.2,386.1 536.3,386.7 537.3,387.2 538.4,387.8 539.5,388.3 540.6,388.8 541.7,389.3 542.8,389.8 544.0,390.2 545.1,390.6 546.2,391.0 547.4,391.3 548.6,391.7 549.7,392.0 550.9,392.3 552.1,392.6 553.2,392.8 554.4,393.1 555.6,393.3 556.8,393.5 558.0,393.8 559.2,393.9 560.4,394.1 561.6,394.3 562.8,394.5 564.0,394.6 565.2,394.7 566.4,394.9 567.6,395.0 568.8,395.1 570.0,395.2 571.2,395.3 572.4,395.4 573.6,395.5 574.8,395.6 576.0,395.7 577.2,395.7 578.4,395.8 579.6,395.9 580.8,395.9 582.0,396.0 583.2,396.0 584.5,396.1 585.7,396.1 586.9,396.1 588.1,396.2 589.3,396.2 590.5,396.3 591.7,396.3 592.9,396.3 594.1,396.3 595.3,396.4 596.5,396.4 597.7,396.4 598.9,396.4 600.2,396.5 601.4,396.5 602.6,396.5 603.8,396.5 605.0,396.5 606.2,396.5 607.4,396.6 608.6,396.6 609.8,396.6 611.0,396.6 612.2,396.6 613.4,396.6 614.7,396.6 615.9,396.6 617.1,396.6 618.3,396.6 619.5,396.6 620.7,396.7 621.9,396.7 623.1,396.7 624.3,396.7 625.5,396.7 626.7,396.7 627.9,396.7 629.2,396.7 630.4,396.7 631.6,396.7 632.8,396.7 634.0,396.7 635.2,396.7 636.4,396.7 637.6,396.7 638.8,396.7 640.0,396.7 641.2,396.7 642.4,396.7 643.7,396.7 644.9,396.7 646.1,396.7 647.3,396.7 648.5,396.7 649.7,396.7 650.9,396.7 652.1,396.7 653.3,396.7 654.5,396.7 655.7,396.7 656.9,396.7 658.2,396.7 659.4,396.7 660.6,396.7 661.8,396.7 663.0,396.7 664.2,396.7 665.4,396.7 666.6,396.7 667.8,396.7 669.0,396.7 670.2,396.7 671.4,396.7 672.7,396.7 673.9,396.7 675.1,396.7 676.3,396.7 677.5,396.7 678.7,396.7 679.9,396.7" fill="none" stroke="#e8a95b" stroke-width="2.3" stroke-linecap="round" stroke-linejoin="round"/>
<path d="M500.8,366.2 501.3,367.3 501.7,368.4 502.2,369.5 502.7,370.6 503.3,371.7 503.8,372.8 504.3,373.9 504.9,375.0 505.5,376.0 506.1,377.1 506.7,378.2 507.3,379.2 508.0,380.2 508.6,381.2 509.3,382.2 510.0,383.2 510.7,384.2 511.5,385.1 512.2,386.1 513.0,387.0 513.9,387.9 514.7,388.8 515.5,389.6 516.4,390.5 517.3,391.3 518.2,392.1 519.2,392.8 520.2,393.6 521.1,394.3 522.1,394.9 523.2,395.6 524.2,396.2 525.3,396.8 526.3,397.4 527.4,397.9 528.5,398.4 529.7,398.9 530.8,399.3 531.9,399.8 533.1,400.2 534.2,400.5 535.4,400.9 536.5,401.2 537.7,401.6 538.9,401.8 540.1,402.1 541.2,402.4 542.4,402.6 543.6,402.9 544.8,403.1 546.0,403.3 547.2,403.5 548.4,403.6 549.6,403.8 550.8,404.0 552.0,404.1 553.2,404.2 554.4,404.4 555.6,404.5 556.8,404.6 558.0,404.7 559.3,404.8 560.5,404.9 561.7,405.0 562.9,405.1 564.1,405.2 565.3,405.3 566.5,405.3 567.7,405.4 568.9,405.5 570.1,405.5 571.4,405.6 572.6,405.6 573.8,405.7 575.0,405.8 576.2,405.8 577.4,405.9 578.6,405.9 579.8,405.9 581.0,406.0 582.3,406.0 583.5,406.1 584.7,406.1 585.9,406.2 587.1,406.2 588.3,406.2 589.5,406.3 590.7,406.3 592.0,406.3 593.2,406.4 594.4,406.4 595.6,406.4 596.8,406.5 598.0,406.5 599.2,406.5 600.4,406.5 601.7,406.6 602.9,406.6 604.1,406.6 605.3,406.7 606.5,406.7" fill="none" stroke="#f3d5ca" stroke-width="2.3" stroke-linecap="round" stroke-linejoin="round"/>
</svg>
</body></html>
